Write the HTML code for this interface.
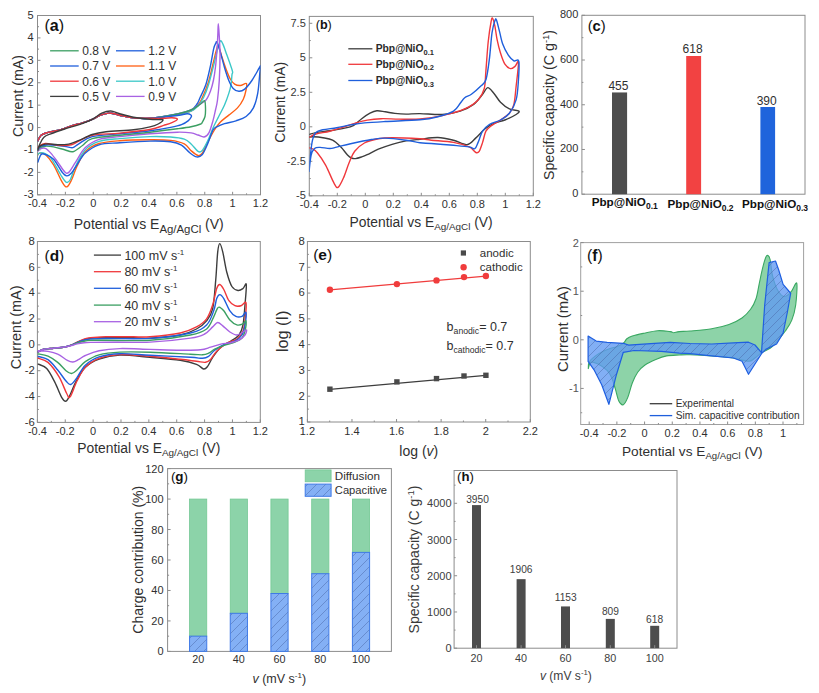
<!DOCTYPE html>
<html><head><meta charset="utf-8"><style>
html,body{margin:0;padding:0;background:#fff;}
svg{display:block;font-family:"Liberation Sans", sans-serif;}
</style></head><body>
<svg width="819" height="693" viewBox="0 0 819 693">
<rect width="819" height="693" fill="#fff"/>
<rect x="37.50" y="15.50" width="223.00" height="179.30" fill="none" stroke="#8c8c8c" stroke-width="1"/>
<line x1="37.50" y1="194.8" x2="37.50" y2="191.8" stroke="#8c8c8c" stroke-width="1"/>
<text x="37.50" y="207.30" font-size="11" text-anchor="middle" fill="#303030" font-weight="normal" >-0.4</text>
<line x1="65.38" y1="194.8" x2="65.38" y2="191.8" stroke="#8c8c8c" stroke-width="1"/>
<text x="65.38" y="207.30" font-size="11" text-anchor="middle" fill="#303030" font-weight="normal" >-0.2</text>
<line x1="93.25" y1="194.8" x2="93.25" y2="191.8" stroke="#8c8c8c" stroke-width="1"/>
<text x="93.25" y="207.30" font-size="11" text-anchor="middle" fill="#303030" font-weight="normal" >0</text>
<line x1="121.13" y1="194.8" x2="121.13" y2="191.8" stroke="#8c8c8c" stroke-width="1"/>
<text x="121.13" y="207.30" font-size="11" text-anchor="middle" fill="#303030" font-weight="normal" >0.2</text>
<line x1="149.00" y1="194.8" x2="149.00" y2="191.8" stroke="#8c8c8c" stroke-width="1"/>
<text x="149.00" y="207.30" font-size="11" text-anchor="middle" fill="#303030" font-weight="normal" >0.4</text>
<line x1="176.88" y1="194.8" x2="176.88" y2="191.8" stroke="#8c8c8c" stroke-width="1"/>
<text x="176.88" y="207.30" font-size="11" text-anchor="middle" fill="#303030" font-weight="normal" >0.6</text>
<line x1="204.75" y1="194.8" x2="204.75" y2="191.8" stroke="#8c8c8c" stroke-width="1"/>
<text x="204.75" y="207.30" font-size="11" text-anchor="middle" fill="#303030" font-weight="normal" >0.8</text>
<line x1="232.62" y1="194.8" x2="232.62" y2="191.8" stroke="#8c8c8c" stroke-width="1"/>
<text x="232.62" y="207.30" font-size="11" text-anchor="middle" fill="#303030" font-weight="normal" >1</text>
<line x1="260.50" y1="194.8" x2="260.50" y2="191.8" stroke="#8c8c8c" stroke-width="1"/>
<text x="260.50" y="207.30" font-size="11" text-anchor="middle" fill="#303030" font-weight="normal" >1.2</text>
<line x1="51.44" y1="194.8" x2="51.44" y2="193.3" stroke="#8c8c8c" stroke-width="1"/>
<line x1="79.31" y1="194.8" x2="79.31" y2="193.3" stroke="#8c8c8c" stroke-width="1"/>
<line x1="107.19" y1="194.8" x2="107.19" y2="193.3" stroke="#8c8c8c" stroke-width="1"/>
<line x1="135.06" y1="194.8" x2="135.06" y2="193.3" stroke="#8c8c8c" stroke-width="1"/>
<line x1="162.94" y1="194.8" x2="162.94" y2="193.3" stroke="#8c8c8c" stroke-width="1"/>
<line x1="190.81" y1="194.8" x2="190.81" y2="193.3" stroke="#8c8c8c" stroke-width="1"/>
<line x1="218.69" y1="194.8" x2="218.69" y2="193.3" stroke="#8c8c8c" stroke-width="1"/>
<line x1="246.56" y1="194.8" x2="246.56" y2="193.3" stroke="#8c8c8c" stroke-width="1"/>
<line x1="37.5" y1="194.80" x2="40.5" y2="194.80" stroke="#8c8c8c" stroke-width="1"/>
<text x="33.50" y="198.00" font-size="11" text-anchor="end" fill="#303030" font-weight="normal" >-3</text>
<line x1="37.5" y1="172.39" x2="40.5" y2="172.39" stroke="#8c8c8c" stroke-width="1"/>
<text x="33.50" y="175.59" font-size="11" text-anchor="end" fill="#303030" font-weight="normal" >-2</text>
<line x1="37.5" y1="149.98" x2="40.5" y2="149.98" stroke="#8c8c8c" stroke-width="1"/>
<text x="33.50" y="153.18" font-size="11" text-anchor="end" fill="#303030" font-weight="normal" >-1</text>
<line x1="37.5" y1="127.56" x2="40.5" y2="127.56" stroke="#8c8c8c" stroke-width="1"/>
<text x="33.50" y="130.76" font-size="11" text-anchor="end" fill="#303030" font-weight="normal" >0</text>
<line x1="37.5" y1="105.15" x2="40.5" y2="105.15" stroke="#8c8c8c" stroke-width="1"/>
<text x="33.50" y="108.35" font-size="11" text-anchor="end" fill="#303030" font-weight="normal" >1</text>
<line x1="37.5" y1="82.74" x2="40.5" y2="82.74" stroke="#8c8c8c" stroke-width="1"/>
<text x="33.50" y="85.94" font-size="11" text-anchor="end" fill="#303030" font-weight="normal" >2</text>
<line x1="37.5" y1="60.32" x2="40.5" y2="60.32" stroke="#8c8c8c" stroke-width="1"/>
<text x="33.50" y="63.52" font-size="11" text-anchor="end" fill="#303030" font-weight="normal" >3</text>
<line x1="37.5" y1="37.91" x2="40.5" y2="37.91" stroke="#8c8c8c" stroke-width="1"/>
<text x="33.50" y="41.11" font-size="11" text-anchor="end" fill="#303030" font-weight="normal" >4</text>
<line x1="37.5" y1="15.50" x2="40.5" y2="15.50" stroke="#8c8c8c" stroke-width="1"/>
<text x="33.50" y="18.70" font-size="11" text-anchor="end" fill="#303030" font-weight="normal" >5</text>
<line x1="37.5" y1="183.59" x2="39.0" y2="183.59" stroke="#8c8c8c" stroke-width="1"/>
<line x1="37.5" y1="161.18" x2="39.0" y2="161.18" stroke="#8c8c8c" stroke-width="1"/>
<line x1="37.5" y1="138.77" x2="39.0" y2="138.77" stroke="#8c8c8c" stroke-width="1"/>
<line x1="37.5" y1="116.36" x2="39.0" y2="116.36" stroke="#8c8c8c" stroke-width="1"/>
<line x1="37.5" y1="93.94" x2="39.0" y2="93.94" stroke="#8c8c8c" stroke-width="1"/>
<line x1="37.5" y1="71.53" x2="39.0" y2="71.53" stroke="#8c8c8c" stroke-width="1"/>
<line x1="37.5" y1="49.12" x2="39.0" y2="49.12" stroke="#8c8c8c" stroke-width="1"/>
<line x1="37.5" y1="26.71" x2="39.0" y2="26.71" stroke="#8c8c8c" stroke-width="1"/>
<text x="44.40" y="31.40" font-size="16.1" fill="#111">(<tspan font-weight="bold">a</tspan>)</text>
<text x="22.90" y="96.00" font-size="14.2" text-anchor="middle" fill="#303030" transform="rotate(-90 22.90 96.00)">Current (mA)</text>
<text x="148.75" y="228.80" font-size="14" text-anchor="middle" fill="#303030" font-weight="normal" >Potential vs E<tspan font-size="11.4" dy="4.3">Ag/AgCl</tspan><tspan dy="-4.3"> (V)</tspan></text>
<line x1="50.1" y1="50.8" x2="78.7" y2="50.8" stroke="#3b9f62" stroke-width="1.3"/>
<text x="82.30" y="55.10" font-size="12" text-anchor="start" fill="#303030" font-weight="normal" >0.8 V</text>
<line x1="50.1" y1="66" x2="78.7" y2="66" stroke="#1f5fdc" stroke-width="1.3"/>
<text x="82.30" y="70.30" font-size="12" text-anchor="start" fill="#303030" font-weight="normal" >0.7 V</text>
<line x1="50.1" y1="81.2" x2="78.7" y2="81.2" stroke="#f0383c" stroke-width="1.3"/>
<text x="82.30" y="85.50" font-size="12" text-anchor="start" fill="#303030" font-weight="normal" >0.6 V</text>
<line x1="50.1" y1="96.4" x2="78.7" y2="96.4" stroke="#3d3d3d" stroke-width="1.3"/>
<text x="82.30" y="100.70" font-size="12" text-anchor="start" fill="#303030" font-weight="normal" >0.5 V</text>
<line x1="116" y1="50.8" x2="144.6" y2="50.8" stroke="#1f5fdc" stroke-width="1.3"/>
<text x="148.20" y="55.10" font-size="12" text-anchor="start" fill="#303030" font-weight="normal" >1.2 V</text>
<line x1="116" y1="66" x2="144.6" y2="66" stroke="#ff5f14" stroke-width="1.3"/>
<text x="148.20" y="70.30" font-size="12" text-anchor="start" fill="#303030" font-weight="normal" >1.1 V</text>
<line x1="116" y1="81.2" x2="144.6" y2="81.2" stroke="#3cc8c8" stroke-width="1.3"/>
<text x="148.20" y="85.50" font-size="12" text-anchor="start" fill="#303030" font-weight="normal" >1.0 V</text>
<line x1="116" y1="96.4" x2="144.6" y2="96.4" stroke="#a862e3" stroke-width="1.3"/>
<text x="148.20" y="100.70" font-size="12" text-anchor="start" fill="#303030" font-weight="normal" >0.9 V</text>
<rect x="309.30" y="16.40" width="224.00" height="179.40" fill="none" stroke="#8c8c8c" stroke-width="1"/>
<line x1="309.30" y1="195.8" x2="309.30" y2="192.8" stroke="#8c8c8c" stroke-width="1"/>
<text x="309.30" y="207.80" font-size="11" text-anchor="middle" fill="#303030" font-weight="normal" >-0.4</text>
<line x1="337.30" y1="195.8" x2="337.30" y2="192.8" stroke="#8c8c8c" stroke-width="1"/>
<text x="337.30" y="207.80" font-size="11" text-anchor="middle" fill="#303030" font-weight="normal" >-0.2</text>
<line x1="365.30" y1="195.8" x2="365.30" y2="192.8" stroke="#8c8c8c" stroke-width="1"/>
<text x="365.30" y="207.80" font-size="11" text-anchor="middle" fill="#303030" font-weight="normal" >0</text>
<line x1="393.30" y1="195.8" x2="393.30" y2="192.8" stroke="#8c8c8c" stroke-width="1"/>
<text x="393.30" y="207.80" font-size="11" text-anchor="middle" fill="#303030" font-weight="normal" >0.2</text>
<line x1="421.30" y1="195.8" x2="421.30" y2="192.8" stroke="#8c8c8c" stroke-width="1"/>
<text x="421.30" y="207.80" font-size="11" text-anchor="middle" fill="#303030" font-weight="normal" >0.4</text>
<line x1="449.30" y1="195.8" x2="449.30" y2="192.8" stroke="#8c8c8c" stroke-width="1"/>
<text x="449.30" y="207.80" font-size="11" text-anchor="middle" fill="#303030" font-weight="normal" >0.6</text>
<line x1="477.30" y1="195.8" x2="477.30" y2="192.8" stroke="#8c8c8c" stroke-width="1"/>
<text x="477.30" y="207.80" font-size="11" text-anchor="middle" fill="#303030" font-weight="normal" >0.8</text>
<line x1="505.30" y1="195.8" x2="505.30" y2="192.8" stroke="#8c8c8c" stroke-width="1"/>
<text x="505.30" y="207.80" font-size="11" text-anchor="middle" fill="#303030" font-weight="normal" >1</text>
<line x1="533.30" y1="195.8" x2="533.30" y2="192.8" stroke="#8c8c8c" stroke-width="1"/>
<text x="533.30" y="207.80" font-size="11" text-anchor="middle" fill="#303030" font-weight="normal" >1.2</text>
<line x1="323.30" y1="195.8" x2="323.30" y2="194.3" stroke="#8c8c8c" stroke-width="1"/>
<line x1="351.30" y1="195.8" x2="351.30" y2="194.3" stroke="#8c8c8c" stroke-width="1"/>
<line x1="379.30" y1="195.8" x2="379.30" y2="194.3" stroke="#8c8c8c" stroke-width="1"/>
<line x1="407.30" y1="195.8" x2="407.30" y2="194.3" stroke="#8c8c8c" stroke-width="1"/>
<line x1="435.30" y1="195.8" x2="435.30" y2="194.3" stroke="#8c8c8c" stroke-width="1"/>
<line x1="463.30" y1="195.8" x2="463.30" y2="194.3" stroke="#8c8c8c" stroke-width="1"/>
<line x1="491.30" y1="195.8" x2="491.30" y2="194.3" stroke="#8c8c8c" stroke-width="1"/>
<line x1="519.30" y1="195.8" x2="519.30" y2="194.3" stroke="#8c8c8c" stroke-width="1"/>
<line x1="309.3" y1="195.80" x2="312.3" y2="195.80" stroke="#8c8c8c" stroke-width="1"/>
<text x="305.80" y="199.20" font-size="11" text-anchor="end" fill="#383838" font-weight="normal" >-5</text>
<line x1="309.3" y1="161.30" x2="312.3" y2="161.30" stroke="#8c8c8c" stroke-width="1"/>
<text x="305.80" y="164.70" font-size="11" text-anchor="end" fill="#383838" font-weight="normal" >-2.5</text>
<line x1="309.3" y1="126.80" x2="312.3" y2="126.80" stroke="#8c8c8c" stroke-width="1"/>
<text x="305.80" y="130.20" font-size="11" text-anchor="end" fill="#383838" font-weight="normal" >0</text>
<line x1="309.3" y1="92.30" x2="312.3" y2="92.30" stroke="#8c8c8c" stroke-width="1"/>
<text x="305.80" y="95.70" font-size="11" text-anchor="end" fill="#383838" font-weight="normal" >2.5</text>
<line x1="309.3" y1="57.80" x2="312.3" y2="57.80" stroke="#8c8c8c" stroke-width="1"/>
<text x="305.80" y="61.20" font-size="11" text-anchor="end" fill="#383838" font-weight="normal" >5</text>
<line x1="309.3" y1="23.30" x2="312.3" y2="23.30" stroke="#8c8c8c" stroke-width="1"/>
<text x="305.80" y="26.70" font-size="11" text-anchor="end" fill="#383838" font-weight="normal" >7.5</text>
<line x1="309.3" y1="178.55" x2="310.8" y2="178.55" stroke="#8c8c8c" stroke-width="1"/>
<line x1="309.3" y1="144.05" x2="310.8" y2="144.05" stroke="#8c8c8c" stroke-width="1"/>
<line x1="309.3" y1="109.55" x2="310.8" y2="109.55" stroke="#8c8c8c" stroke-width="1"/>
<line x1="309.3" y1="75.05" x2="310.8" y2="75.05" stroke="#8c8c8c" stroke-width="1"/>
<line x1="309.3" y1="40.55" x2="310.8" y2="40.55" stroke="#8c8c8c" stroke-width="1"/>
<text x="315.70" y="29.00" font-size="12.6" fill="#111">(<tspan font-weight="bold">b</tspan>)</text>
<text x="285.40" y="102.30" font-size="14" text-anchor="middle" fill="#303030" transform="rotate(-90 285.40 102.30)">Current (mA)</text>
<text x="421.10" y="227.20" font-size="13.85" text-anchor="middle" fill="#303030" font-weight="normal" >Potential vs E<tspan font-size="9.9" dy="3">Ag/AgCl</tspan><tspan dy="-3"> (V)</tspan></text>
<line x1="348.3" y1="48.8" x2="372.4" y2="48.8" stroke="#3d3d3d" stroke-width="1.3"/>
<text x="375.70" y="52.30" font-size="10.3" text-anchor="start" fill="#2a2a2a" font-weight="bold" >Pbp@NiO<tspan font-size="7.5" dy="2.5">0.1</tspan></text>
<line x1="348.3" y1="64.3" x2="372.4" y2="64.3" stroke="#f0383c" stroke-width="1.3"/>
<text x="375.70" y="67.80" font-size="10.3" text-anchor="start" fill="#2a2a2a" font-weight="bold" >Pbp@NiO<tspan font-size="7.5" dy="2.5">0.2</tspan></text>
<line x1="348.3" y1="80.5" x2="372.4" y2="80.5" stroke="#1f5fdc" stroke-width="1.3"/>
<text x="375.70" y="84.00" font-size="10.3" text-anchor="start" fill="#2a2a2a" font-weight="bold" >Pbp@NiO<tspan font-size="7.5" dy="2.5">0.3</tspan></text>
<rect x="581.90" y="15.30" width="223.10" height="178.90" fill="none" stroke="#8c8c8c" stroke-width="1"/>
<line x1="581.9" y1="194.20" x2="584.9" y2="194.20" stroke="#8c8c8c" stroke-width="1"/>
<text x="578.30" y="197.20" font-size="11" text-anchor="end" fill="#303030" font-weight="normal" >0</text>
<line x1="581.9" y1="149.47" x2="584.9" y2="149.47" stroke="#8c8c8c" stroke-width="1"/>
<text x="578.30" y="152.47" font-size="11" text-anchor="end" fill="#303030" font-weight="normal" >200</text>
<line x1="581.9" y1="104.75" x2="584.9" y2="104.75" stroke="#8c8c8c" stroke-width="1"/>
<text x="578.30" y="107.75" font-size="11" text-anchor="end" fill="#303030" font-weight="normal" >400</text>
<line x1="581.9" y1="60.03" x2="584.9" y2="60.03" stroke="#8c8c8c" stroke-width="1"/>
<text x="578.30" y="63.03" font-size="11" text-anchor="end" fill="#303030" font-weight="normal" >600</text>
<line x1="581.9" y1="15.30" x2="584.9" y2="15.30" stroke="#8c8c8c" stroke-width="1"/>
<text x="578.30" y="18.30" font-size="11" text-anchor="end" fill="#303030" font-weight="normal" >800</text>
<line x1="581.9" y1="171.84" x2="583.4" y2="171.84" stroke="#8c8c8c" stroke-width="1"/>
<line x1="581.9" y1="127.11" x2="583.4" y2="127.11" stroke="#8c8c8c" stroke-width="1"/>
<line x1="581.9" y1="82.39" x2="583.4" y2="82.39" stroke="#8c8c8c" stroke-width="1"/>
<line x1="581.9" y1="37.66" x2="583.4" y2="37.66" stroke="#8c8c8c" stroke-width="1"/>
<text x="587.70" y="30.90" font-size="14.7" fill="#111">(<tspan font-weight="bold">c</tspan>)</text>
<text x="554.20" y="105.00" font-size="14.25" text-anchor="middle" fill="#303030" transform="rotate(-90 554.20 105.00)">Specific capacity (C g<tspan font-size="9.5" dy="-5.5">-1</tspan><tspan dy="5.5">)</tspan></text>
<rect x="612" y="92.45" width="15.10" height="101.75" fill="#4d4d4d"/>
<text x="618.45" y="90.40" font-size="12" text-anchor="middle" fill="#303030" font-weight="normal" >455</text>
<rect x="686.2" y="56.00" width="14.90" height="138.20" fill="#f24242"/>
<text x="692.55" y="52.90" font-size="12" text-anchor="middle" fill="#303030" font-weight="normal" >618</text>
<rect x="760.4" y="106.99" width="14.70" height="87.21" fill="#1f64dc"/>
<text x="766.70" y="104.80" font-size="12" text-anchor="middle" fill="#303030" font-weight="normal" >390</text>
<text x="591.70" y="206.30" font-size="11.7" text-anchor="start" fill="#111" font-weight="bold" >Pbp@NiO<tspan font-size="8.5" dy="2.5">0.1</tspan></text>
<text x="667.50" y="208.00" font-size="11.7" text-anchor="start" fill="#111" font-weight="bold" >Pbp@NiO<tspan font-size="8.5" dy="2.5">0.2</tspan></text>
<text x="742.00" y="208.00" font-size="11.7" text-anchor="start" fill="#111" font-weight="bold" >Pbp@NiO<tspan font-size="8.5" dy="2.5">0.3</tspan></text>
<rect x="37.40" y="241.50" width="222.90" height="180.90" fill="none" stroke="#8c8c8c" stroke-width="1"/>
<line x1="37.40" y1="422.4" x2="37.40" y2="419.4" stroke="#8c8c8c" stroke-width="1"/>
<text x="37.40" y="434.90" font-size="11" text-anchor="middle" fill="#303030" font-weight="normal" >-0.4</text>
<line x1="65.26" y1="422.4" x2="65.26" y2="419.4" stroke="#8c8c8c" stroke-width="1"/>
<text x="65.26" y="434.90" font-size="11" text-anchor="middle" fill="#303030" font-weight="normal" >-0.2</text>
<line x1="93.12" y1="422.4" x2="93.12" y2="419.4" stroke="#8c8c8c" stroke-width="1"/>
<text x="93.12" y="434.90" font-size="11" text-anchor="middle" fill="#303030" font-weight="normal" >0</text>
<line x1="120.99" y1="422.4" x2="120.99" y2="419.4" stroke="#8c8c8c" stroke-width="1"/>
<text x="120.99" y="434.90" font-size="11" text-anchor="middle" fill="#303030" font-weight="normal" >0.2</text>
<line x1="148.85" y1="422.4" x2="148.85" y2="419.4" stroke="#8c8c8c" stroke-width="1"/>
<text x="148.85" y="434.90" font-size="11" text-anchor="middle" fill="#303030" font-weight="normal" >0.4</text>
<line x1="176.71" y1="422.4" x2="176.71" y2="419.4" stroke="#8c8c8c" stroke-width="1"/>
<text x="176.71" y="434.90" font-size="11" text-anchor="middle" fill="#303030" font-weight="normal" >0.6</text>
<line x1="204.58" y1="422.4" x2="204.58" y2="419.4" stroke="#8c8c8c" stroke-width="1"/>
<text x="204.58" y="434.90" font-size="11" text-anchor="middle" fill="#303030" font-weight="normal" >0.8</text>
<line x1="232.44" y1="422.4" x2="232.44" y2="419.4" stroke="#8c8c8c" stroke-width="1"/>
<text x="232.44" y="434.90" font-size="11" text-anchor="middle" fill="#303030" font-weight="normal" >1</text>
<line x1="260.30" y1="422.4" x2="260.30" y2="419.4" stroke="#8c8c8c" stroke-width="1"/>
<text x="260.30" y="434.90" font-size="11" text-anchor="middle" fill="#303030" font-weight="normal" >1.2</text>
<line x1="51.33" y1="422.4" x2="51.33" y2="420.9" stroke="#8c8c8c" stroke-width="1"/>
<line x1="79.19" y1="422.4" x2="79.19" y2="420.9" stroke="#8c8c8c" stroke-width="1"/>
<line x1="107.06" y1="422.4" x2="107.06" y2="420.9" stroke="#8c8c8c" stroke-width="1"/>
<line x1="134.92" y1="422.4" x2="134.92" y2="420.9" stroke="#8c8c8c" stroke-width="1"/>
<line x1="162.78" y1="422.4" x2="162.78" y2="420.9" stroke="#8c8c8c" stroke-width="1"/>
<line x1="190.64" y1="422.4" x2="190.64" y2="420.9" stroke="#8c8c8c" stroke-width="1"/>
<line x1="218.51" y1="422.4" x2="218.51" y2="420.9" stroke="#8c8c8c" stroke-width="1"/>
<line x1="246.37" y1="422.4" x2="246.37" y2="420.9" stroke="#8c8c8c" stroke-width="1"/>
<line x1="37.4" y1="422.40" x2="40.4" y2="422.40" stroke="#8c8c8c" stroke-width="1"/>
<text x="34.70" y="425.70" font-size="11.3" text-anchor="end" fill="#303030" font-weight="normal" >-6</text>
<line x1="37.4" y1="396.56" x2="40.4" y2="396.56" stroke="#8c8c8c" stroke-width="1"/>
<text x="34.70" y="399.86" font-size="11.3" text-anchor="end" fill="#303030" font-weight="normal" >-4</text>
<line x1="37.4" y1="370.71" x2="40.4" y2="370.71" stroke="#8c8c8c" stroke-width="1"/>
<text x="34.70" y="374.01" font-size="11.3" text-anchor="end" fill="#303030" font-weight="normal" >-2</text>
<line x1="37.4" y1="344.87" x2="40.4" y2="344.87" stroke="#8c8c8c" stroke-width="1"/>
<text x="34.70" y="348.17" font-size="11.3" text-anchor="end" fill="#303030" font-weight="normal" >0</text>
<line x1="37.4" y1="319.03" x2="40.4" y2="319.03" stroke="#8c8c8c" stroke-width="1"/>
<text x="34.70" y="322.33" font-size="11.3" text-anchor="end" fill="#303030" font-weight="normal" >2</text>
<line x1="37.4" y1="293.19" x2="40.4" y2="293.19" stroke="#8c8c8c" stroke-width="1"/>
<text x="34.70" y="296.49" font-size="11.3" text-anchor="end" fill="#303030" font-weight="normal" >4</text>
<line x1="37.4" y1="267.34" x2="40.4" y2="267.34" stroke="#8c8c8c" stroke-width="1"/>
<text x="34.70" y="270.64" font-size="11.3" text-anchor="end" fill="#303030" font-weight="normal" >6</text>
<line x1="37.4" y1="241.50" x2="40.4" y2="241.50" stroke="#8c8c8c" stroke-width="1"/>
<text x="34.70" y="244.80" font-size="11.3" text-anchor="end" fill="#303030" font-weight="normal" >8</text>
<line x1="37.4" y1="409.48" x2="38.9" y2="409.48" stroke="#8c8c8c" stroke-width="1"/>
<line x1="37.4" y1="383.64" x2="38.9" y2="383.64" stroke="#8c8c8c" stroke-width="1"/>
<line x1="37.4" y1="357.79" x2="38.9" y2="357.79" stroke="#8c8c8c" stroke-width="1"/>
<line x1="37.4" y1="331.95" x2="38.9" y2="331.95" stroke="#8c8c8c" stroke-width="1"/>
<line x1="37.4" y1="306.11" x2="38.9" y2="306.11" stroke="#8c8c8c" stroke-width="1"/>
<line x1="37.4" y1="280.26" x2="38.9" y2="280.26" stroke="#8c8c8c" stroke-width="1"/>
<line x1="37.4" y1="254.42" x2="38.9" y2="254.42" stroke="#8c8c8c" stroke-width="1"/>
<text x="44.50" y="260.50" font-size="15.4" fill="#111">(<tspan font-weight="bold">d</tspan>)</text>
<text x="21.20" y="327.30" font-size="14.5" text-anchor="middle" fill="#303030" transform="rotate(-90 21.20 327.30)">Current (mA)</text>
<text x="148.85" y="452.60" font-size="13.85" text-anchor="middle" fill="#303030" font-weight="normal" >Potential vs E<tspan font-size="9.9" dy="3.6">Ag/AgCl</tspan><tspan dy="-3.6"> (V)</tspan></text>
<line x1="93.9" y1="255.1" x2="121" y2="255.1" stroke="#3d3d3d" stroke-width="1.3"/>
<text x="124.40" y="259.60" font-size="12.5" text-anchor="start" fill="#303030" font-weight="normal" >100 mV s<tspan font-size="8" dy="-5">-1</tspan></text>
<line x1="93.9" y1="271.7" x2="121" y2="271.7" stroke="#f0383c" stroke-width="1.3"/>
<text x="124.40" y="276.20" font-size="12.5" text-anchor="start" fill="#303030" font-weight="normal" >80 mV s<tspan font-size="8" dy="-5">-1</tspan></text>
<line x1="93.9" y1="288.3" x2="121" y2="288.3" stroke="#1f5fdc" stroke-width="1.3"/>
<text x="124.40" y="292.80" font-size="12.5" text-anchor="start" fill="#303030" font-weight="normal" >60 mV s<tspan font-size="8" dy="-5">-1</tspan></text>
<line x1="93.9" y1="305.1" x2="121" y2="305.1" stroke="#3b9f62" stroke-width="1.3"/>
<text x="124.40" y="309.60" font-size="12.5" text-anchor="start" fill="#303030" font-weight="normal" >40 mV s<tspan font-size="8" dy="-5">-1</tspan></text>
<line x1="93.9" y1="321.7" x2="121" y2="321.7" stroke="#a862e3" stroke-width="1.3"/>
<text x="124.40" y="326.20" font-size="12.5" text-anchor="start" fill="#303030" font-weight="normal" >20 mV s<tspan font-size="8" dy="-5">-1</tspan></text>
<rect x="307.40" y="241.50" width="222.90" height="180.50" fill="none" stroke="#8c8c8c" stroke-width="1"/>
<line x1="307.40" y1="422.0" x2="307.40" y2="419.0" stroke="#8c8c8c" stroke-width="1"/>
<text x="307.40" y="434.50" font-size="11" text-anchor="middle" fill="#303030" font-weight="normal" >1.2</text>
<line x1="351.98" y1="422.0" x2="351.98" y2="419.0" stroke="#8c8c8c" stroke-width="1"/>
<text x="351.98" y="434.50" font-size="11" text-anchor="middle" fill="#303030" font-weight="normal" >1.4</text>
<line x1="396.56" y1="422.0" x2="396.56" y2="419.0" stroke="#8c8c8c" stroke-width="1"/>
<text x="396.56" y="434.50" font-size="11" text-anchor="middle" fill="#303030" font-weight="normal" >1.6</text>
<line x1="441.14" y1="422.0" x2="441.14" y2="419.0" stroke="#8c8c8c" stroke-width="1"/>
<text x="441.14" y="434.50" font-size="11" text-anchor="middle" fill="#303030" font-weight="normal" >1.8</text>
<line x1="485.72" y1="422.0" x2="485.72" y2="419.0" stroke="#8c8c8c" stroke-width="1"/>
<text x="485.72" y="434.50" font-size="11" text-anchor="middle" fill="#303030" font-weight="normal" >2</text>
<line x1="530.30" y1="422.0" x2="530.30" y2="419.0" stroke="#8c8c8c" stroke-width="1"/>
<text x="530.30" y="434.50" font-size="11" text-anchor="middle" fill="#303030" font-weight="normal" >2.2</text>
<line x1="329.69" y1="422.0" x2="329.69" y2="420.5" stroke="#8c8c8c" stroke-width="1"/>
<line x1="374.27" y1="422.0" x2="374.27" y2="420.5" stroke="#8c8c8c" stroke-width="1"/>
<line x1="418.85" y1="422.0" x2="418.85" y2="420.5" stroke="#8c8c8c" stroke-width="1"/>
<line x1="463.43" y1="422.0" x2="463.43" y2="420.5" stroke="#8c8c8c" stroke-width="1"/>
<line x1="508.01" y1="422.0" x2="508.01" y2="420.5" stroke="#8c8c8c" stroke-width="1"/>
<line x1="307.4" y1="422.00" x2="310.4" y2="422.00" stroke="#8c8c8c" stroke-width="1"/>
<text x="304.70" y="425.30" font-size="11.3" text-anchor="end" fill="#303030" font-weight="normal" >1</text>
<line x1="307.4" y1="396.21" x2="310.4" y2="396.21" stroke="#8c8c8c" stroke-width="1"/>
<text x="304.70" y="399.51" font-size="11.3" text-anchor="end" fill="#303030" font-weight="normal" >2</text>
<line x1="307.4" y1="370.43" x2="310.4" y2="370.43" stroke="#8c8c8c" stroke-width="1"/>
<text x="304.70" y="373.73" font-size="11.3" text-anchor="end" fill="#303030" font-weight="normal" >3</text>
<line x1="307.4" y1="344.64" x2="310.4" y2="344.64" stroke="#8c8c8c" stroke-width="1"/>
<text x="304.70" y="347.94" font-size="11.3" text-anchor="end" fill="#303030" font-weight="normal" >4</text>
<line x1="307.4" y1="318.86" x2="310.4" y2="318.86" stroke="#8c8c8c" stroke-width="1"/>
<text x="304.70" y="322.16" font-size="11.3" text-anchor="end" fill="#303030" font-weight="normal" >5</text>
<line x1="307.4" y1="293.07" x2="310.4" y2="293.07" stroke="#8c8c8c" stroke-width="1"/>
<text x="304.70" y="296.37" font-size="11.3" text-anchor="end" fill="#303030" font-weight="normal" >6</text>
<line x1="307.4" y1="267.29" x2="310.4" y2="267.29" stroke="#8c8c8c" stroke-width="1"/>
<text x="304.70" y="270.59" font-size="11.3" text-anchor="end" fill="#303030" font-weight="normal" >7</text>
<line x1="307.4" y1="241.50" x2="310.4" y2="241.50" stroke="#8c8c8c" stroke-width="1"/>
<text x="304.70" y="244.80" font-size="11.3" text-anchor="end" fill="#303030" font-weight="normal" >8</text>
<line x1="307.4" y1="409.11" x2="308.9" y2="409.11" stroke="#8c8c8c" stroke-width="1"/>
<line x1="307.4" y1="383.32" x2="308.9" y2="383.32" stroke="#8c8c8c" stroke-width="1"/>
<line x1="307.4" y1="357.54" x2="308.9" y2="357.54" stroke="#8c8c8c" stroke-width="1"/>
<line x1="307.4" y1="331.75" x2="308.9" y2="331.75" stroke="#8c8c8c" stroke-width="1"/>
<line x1="307.4" y1="305.96" x2="308.9" y2="305.96" stroke="#8c8c8c" stroke-width="1"/>
<line x1="307.4" y1="280.18" x2="308.9" y2="280.18" stroke="#8c8c8c" stroke-width="1"/>
<line x1="307.4" y1="254.39" x2="308.9" y2="254.39" stroke="#8c8c8c" stroke-width="1"/>
<text x="313.20" y="260.40" font-size="15.5" fill="#111">(<tspan font-weight="bold">e</tspan>)</text>
<text x="288.40" y="331.40" font-size="16.2" text-anchor="middle" fill="#303030" transform="rotate(-90 288.40 331.40)">log (I)</text>
<text x="418.80" y="455.50" font-size="14" text-anchor="middle" fill="#303030" font-weight="normal" >log (<tspan font-style="italic">v</tspan>)</text>
<rect x="580.70" y="242.60" width="222.90" height="181.90" fill="none" stroke="#a0a0a0" stroke-width="1"/>
<line x1="589.20" y1="424.5" x2="589.20" y2="421.5" stroke="#8c8c8c" stroke-width="1"/>
<text x="589.20" y="437.10" font-size="11" text-anchor="middle" fill="#303030" font-weight="normal" >-0.4</text>
<line x1="616.89" y1="424.5" x2="616.89" y2="421.5" stroke="#8c8c8c" stroke-width="1"/>
<text x="616.89" y="437.10" font-size="11" text-anchor="middle" fill="#303030" font-weight="normal" >-0.2</text>
<line x1="644.58" y1="424.5" x2="644.58" y2="421.5" stroke="#8c8c8c" stroke-width="1"/>
<text x="644.58" y="437.10" font-size="11" text-anchor="middle" fill="#303030" font-weight="normal" >0</text>
<line x1="672.26" y1="424.5" x2="672.26" y2="421.5" stroke="#8c8c8c" stroke-width="1"/>
<text x="672.26" y="437.10" font-size="11" text-anchor="middle" fill="#303030" font-weight="normal" >0.2</text>
<line x1="699.95" y1="424.5" x2="699.95" y2="421.5" stroke="#8c8c8c" stroke-width="1"/>
<text x="699.95" y="437.10" font-size="11" text-anchor="middle" fill="#303030" font-weight="normal" >0.4</text>
<line x1="727.64" y1="424.5" x2="727.64" y2="421.5" stroke="#8c8c8c" stroke-width="1"/>
<text x="727.64" y="437.10" font-size="11" text-anchor="middle" fill="#303030" font-weight="normal" >0.6</text>
<line x1="755.33" y1="424.5" x2="755.33" y2="421.5" stroke="#8c8c8c" stroke-width="1"/>
<text x="755.33" y="437.10" font-size="11" text-anchor="middle" fill="#303030" font-weight="normal" >0.8</text>
<line x1="783.01" y1="424.5" x2="783.01" y2="421.5" stroke="#8c8c8c" stroke-width="1"/>
<text x="783.01" y="437.10" font-size="11" text-anchor="middle" fill="#303030" font-weight="normal" >1</text>
<line x1="603.04" y1="424.5" x2="603.04" y2="423.0" stroke="#8c8c8c" stroke-width="1"/>
<line x1="630.73" y1="424.5" x2="630.73" y2="423.0" stroke="#8c8c8c" stroke-width="1"/>
<line x1="658.42" y1="424.5" x2="658.42" y2="423.0" stroke="#8c8c8c" stroke-width="1"/>
<line x1="686.11" y1="424.5" x2="686.11" y2="423.0" stroke="#8c8c8c" stroke-width="1"/>
<line x1="713.79" y1="424.5" x2="713.79" y2="423.0" stroke="#8c8c8c" stroke-width="1"/>
<line x1="741.48" y1="424.5" x2="741.48" y2="423.0" stroke="#8c8c8c" stroke-width="1"/>
<line x1="769.17" y1="424.5" x2="769.17" y2="423.0" stroke="#8c8c8c" stroke-width="1"/>
<line x1="796.86" y1="424.5" x2="796.86" y2="423.0" stroke="#8c8c8c" stroke-width="1"/>
<line x1="580.7" y1="388.43" x2="583.7" y2="388.43" stroke="#8c8c8c" stroke-width="1"/>
<text x="578.90" y="392.43" font-size="11" text-anchor="end" fill="#555" font-weight="normal" >-1</text>
<line x1="580.7" y1="339.82" x2="583.7" y2="339.82" stroke="#8c8c8c" stroke-width="1"/>
<text x="578.90" y="343.82" font-size="11" text-anchor="end" fill="#555" font-weight="normal" >0</text>
<line x1="580.7" y1="291.21" x2="583.7" y2="291.21" stroke="#8c8c8c" stroke-width="1"/>
<text x="578.90" y="295.21" font-size="11" text-anchor="end" fill="#555" font-weight="normal" >1</text>
<line x1="580.7" y1="242.60" x2="583.7" y2="242.60" stroke="#8c8c8c" stroke-width="1"/>
<text x="578.90" y="246.60" font-size="11" text-anchor="end" fill="#555" font-weight="normal" >2</text>
<line x1="580.7" y1="412.74" x2="582.2" y2="412.74" stroke="#8c8c8c" stroke-width="1"/>
<line x1="580.7" y1="364.13" x2="582.2" y2="364.13" stroke="#8c8c8c" stroke-width="1"/>
<line x1="580.7" y1="315.52" x2="582.2" y2="315.52" stroke="#8c8c8c" stroke-width="1"/>
<line x1="580.7" y1="266.91" x2="582.2" y2="266.91" stroke="#8c8c8c" stroke-width="1"/>
<text x="587.00" y="261.00" font-size="15.6" fill="#111">(<tspan font-weight="bold">f</tspan>)</text>
<text x="568.30" y="329.00" font-size="14.9" text-anchor="middle" fill="#303030" transform="rotate(-90 568.30 329.00)">Current (mA)</text>
<text x="692.30" y="455.90" font-size="13.65" text-anchor="middle" fill="#303030" font-weight="normal" >Potential vs E<tspan font-size="9.6" dy="3">Ag/AgCl</tspan><tspan dy="-3"> (V)</tspan></text>
<rect x="167.60" y="468.60" width="223.80" height="182.80" fill="none" stroke="#8c8c8c" stroke-width="1"/>
<line x1="167.6" y1="651.40" x2="170.6" y2="651.40" stroke="#8c8c8c" stroke-width="1"/>
<text x="163.60" y="655.40" font-size="11" text-anchor="end" fill="#303030" font-weight="normal" >0</text>
<line x1="167.6" y1="620.93" x2="170.6" y2="620.93" stroke="#8c8c8c" stroke-width="1"/>
<text x="163.60" y="624.93" font-size="11" text-anchor="end" fill="#303030" font-weight="normal" >20</text>
<line x1="167.6" y1="590.47" x2="170.6" y2="590.47" stroke="#8c8c8c" stroke-width="1"/>
<text x="163.60" y="594.47" font-size="11" text-anchor="end" fill="#303030" font-weight="normal" >40</text>
<line x1="167.6" y1="560.00" x2="170.6" y2="560.00" stroke="#8c8c8c" stroke-width="1"/>
<text x="163.60" y="564.00" font-size="11" text-anchor="end" fill="#303030" font-weight="normal" >60</text>
<line x1="167.6" y1="529.53" x2="170.6" y2="529.53" stroke="#8c8c8c" stroke-width="1"/>
<text x="163.60" y="533.53" font-size="11" text-anchor="end" fill="#303030" font-weight="normal" >80</text>
<line x1="167.6" y1="499.07" x2="170.6" y2="499.07" stroke="#8c8c8c" stroke-width="1"/>
<text x="163.60" y="503.07" font-size="11" text-anchor="end" fill="#303030" font-weight="normal" >100</text>
<line x1="167.6" y1="468.60" x2="170.6" y2="468.60" stroke="#8c8c8c" stroke-width="1"/>
<text x="163.60" y="472.60" font-size="11" text-anchor="end" fill="#303030" font-weight="normal" >120</text>
<line x1="167.6" y1="636.17" x2="169.1" y2="636.17" stroke="#8c8c8c" stroke-width="1"/>
<line x1="167.6" y1="605.70" x2="169.1" y2="605.70" stroke="#8c8c8c" stroke-width="1"/>
<line x1="167.6" y1="575.23" x2="169.1" y2="575.23" stroke="#8c8c8c" stroke-width="1"/>
<line x1="167.6" y1="544.77" x2="169.1" y2="544.77" stroke="#8c8c8c" stroke-width="1"/>
<line x1="167.6" y1="514.30" x2="169.1" y2="514.30" stroke="#8c8c8c" stroke-width="1"/>
<line x1="167.6" y1="483.83" x2="169.1" y2="483.83" stroke="#8c8c8c" stroke-width="1"/>
<text x="170.90" y="481.00" font-size="13.4" fill="#111">(<tspan font-weight="bold">g</tspan>)</text>
<text x="142.60" y="559.70" font-size="14" text-anchor="middle" fill="#303030" transform="rotate(-90 142.60 559.70)">Charge contribution (%)</text>
<text x="279.30" y="683.00" font-size="12.5" text-anchor="middle" fill="#303030" font-weight="normal" ><tspan font-style="italic">v</tspan> (mV s<tspan font-size="8" dy="-5">-1</tspan><tspan dy="5">)</tspan></text>
<rect x="454.10" y="470.50" width="222.90" height="177.70" fill="none" stroke="#8c8c8c" stroke-width="1"/>
<line x1="454.1" y1="648.20" x2="457.1" y2="648.20" stroke="#8c8c8c" stroke-width="1"/>
<text x="451.60" y="652.20" font-size="11" text-anchor="end" fill="#404040" font-weight="normal" >0</text>
<line x1="454.1" y1="611.97" x2="457.1" y2="611.97" stroke="#8c8c8c" stroke-width="1"/>
<text x="451.60" y="615.97" font-size="11" text-anchor="end" fill="#404040" font-weight="normal" >1000</text>
<line x1="454.1" y1="575.74" x2="457.1" y2="575.74" stroke="#8c8c8c" stroke-width="1"/>
<text x="451.60" y="579.74" font-size="11" text-anchor="end" fill="#404040" font-weight="normal" >2000</text>
<line x1="454.1" y1="539.52" x2="457.1" y2="539.52" stroke="#8c8c8c" stroke-width="1"/>
<text x="451.60" y="543.52" font-size="11" text-anchor="end" fill="#404040" font-weight="normal" >3000</text>
<line x1="454.1" y1="503.29" x2="457.1" y2="503.29" stroke="#8c8c8c" stroke-width="1"/>
<text x="451.60" y="507.29" font-size="11" text-anchor="end" fill="#404040" font-weight="normal" >4000</text>
<line x1="454.1" y1="630.09" x2="455.6" y2="630.09" stroke="#8c8c8c" stroke-width="1"/>
<line x1="454.1" y1="593.86" x2="455.6" y2="593.86" stroke="#8c8c8c" stroke-width="1"/>
<line x1="454.1" y1="557.63" x2="455.6" y2="557.63" stroke="#8c8c8c" stroke-width="1"/>
<line x1="454.1" y1="521.40" x2="455.6" y2="521.40" stroke="#8c8c8c" stroke-width="1"/>
<line x1="454.1" y1="485.17" x2="455.6" y2="485.17" stroke="#8c8c8c" stroke-width="1"/>
<text x="457.00" y="481.40" font-size="13.2" fill="#111">(<tspan font-weight="bold">h</tspan>)</text>
<text x="419.00" y="559.50" font-size="14" text-anchor="middle" fill="#3a3a3a" transform="rotate(-90 419.00 559.50)">Specific capacity (C g<tspan font-size="9.5" dy="-5.5">-1</tspan><tspan dy="5.5">)</tspan></text>
<text x="565.90" y="680.20" font-size="12.1" text-anchor="middle" fill="#404040" font-weight="normal" ><tspan font-style="italic">v</tspan> (mV s<tspan font-size="7.8" dy="-5">-1</tspan><tspan dy="5">)</tspan></text>
<clipPath id="clipA"><rect x="37.5" y="15.5" width="223" height="179.3"/></clipPath>
<path d="M37.50,141.40 C38.10,140.37 39.35,136.70 41.10,135.20 C42.85,133.70 45.23,133.20 48.00,132.40 C50.77,131.60 54.93,131.08 57.70,130.40 C60.47,129.72 62.07,129.12 64.60,128.30 C67.13,127.48 69.92,126.42 72.90,125.50 C75.88,124.58 79.28,123.83 82.50,122.80 C85.72,121.77 89.20,120.57 92.20,119.30 C95.20,118.03 97.75,116.23 100.50,115.20 C103.25,114.17 106.40,113.33 108.70,113.10 C111.00,112.87 112.00,113.33 114.30,113.80 C116.60,114.27 119.28,115.22 122.50,115.90 C125.72,116.58 129.02,117.50 133.60,117.90 C138.18,118.30 142.70,118.88 150.00,118.30 C157.30,117.72 170.55,115.62 177.40,114.40 C184.25,113.18 187.75,112.48 191.10,111.00 C194.45,109.52 195.77,107.42 197.50,105.50 C199.23,103.58 199.67,103.43 201.50,99.50 C203.33,95.57 206.38,88.68 208.50,81.90 C210.62,75.12 212.82,64.33 214.20,58.80 C215.58,53.27 216.08,50.95 216.80,48.70 C217.52,46.45 217.70,44.08 218.50,45.30 C219.30,46.52 220.35,52.07 221.60,56.00 C222.85,59.93 224.55,65.07 226.00,68.90 C227.45,72.73 228.87,76.47 230.30,79.00 C231.73,81.53 232.92,83.02 234.60,84.10 C236.28,85.18 238.43,85.58 240.40,85.50 C242.37,85.42 245.48,82.75 246.40,83.60 C247.32,84.45 246.42,88.00 245.90,90.60 C245.38,93.20 244.70,96.32 243.30,99.20 C241.90,102.08 239.92,105.25 237.50,107.90 C235.08,110.55 231.68,112.70 228.80,115.10 C225.92,117.50 222.60,119.82 220.20,122.30 C217.80,124.78 216.50,126.63 214.40,130.00 C212.30,133.37 209.65,138.58 207.60,142.50 C205.55,146.42 203.70,151.33 202.10,153.50 C200.50,155.67 199.83,155.97 198.00,155.50 C196.17,155.03 193.38,152.63 191.10,150.70 C188.82,148.77 187.72,145.62 184.30,143.90 C180.88,142.18 176.32,141.08 170.60,140.40 C164.88,139.72 158.47,139.75 150.00,139.80 C141.53,139.85 128.28,140.08 119.80,140.70 C111.32,141.32 104.85,141.67 99.10,143.50 C93.35,145.33 88.98,147.92 85.30,151.70 C81.62,155.48 79.30,161.48 77.00,166.20 C74.70,170.92 73.22,176.55 71.50,180.00 C69.78,183.45 68.32,186.67 66.70,186.90 C65.08,187.13 63.98,185.08 61.80,181.40 C59.62,177.72 56.35,169.28 53.60,164.80 C50.85,160.32 47.60,156.45 45.30,154.50 C43.00,152.55 41.10,152.98 39.80,153.10 C38.50,153.22 37.88,154.85 37.50,155.20" fill="none" stroke="#ff5f14" stroke-width="1.4" stroke-linejoin="round" clip-path="url(#clipA)"/>
<path d="M37.50,141.40 C38.10,140.37 39.35,136.70 41.10,135.20 C42.85,133.70 45.23,133.20 48.00,132.40 C50.77,131.60 54.93,131.08 57.70,130.40 C60.47,129.72 62.07,129.12 64.60,128.30 C67.13,127.48 69.92,126.42 72.90,125.50 C75.88,124.58 79.28,123.83 82.50,122.80 C85.72,121.77 89.20,120.57 92.20,119.30 C95.20,118.03 97.75,116.23 100.50,115.20 C103.25,114.17 106.40,113.33 108.70,113.10 C111.00,112.87 112.00,113.33 114.30,113.80 C116.60,114.27 119.28,115.22 122.50,115.90 C125.72,116.58 129.02,117.50 133.60,117.90 C138.18,118.30 142.70,118.88 150.00,118.30 C157.30,117.72 170.55,115.62 177.40,114.40 C184.25,113.18 187.67,112.40 191.10,111.00 C194.53,109.60 195.88,108.33 198.00,106.00 C200.12,103.67 202.05,100.53 203.80,97.00 C205.55,93.47 206.77,90.43 208.50,84.80 C210.23,79.17 212.62,69.45 214.20,63.20 C215.78,56.95 216.97,51.03 218.00,47.30 C219.03,43.57 219.57,41.28 220.40,40.80 C221.23,40.32 221.95,42.12 223.00,44.40 C224.05,46.68 225.48,51.13 226.70,54.50 C227.92,57.87 229.32,61.72 230.30,64.60 C231.28,67.48 232.32,70.12 232.60,71.80 C232.88,73.48 232.27,72.53 232.00,74.70 C231.73,76.87 231.53,81.68 231.00,84.80 C230.47,87.92 229.88,90.03 228.80,93.40 C227.72,96.77 226.18,101.15 224.50,105.00 C222.82,108.85 220.62,112.67 218.70,116.50 C216.78,120.33 214.85,123.90 213.00,128.00 C211.15,132.10 209.42,137.32 207.60,141.10 C205.78,144.88 203.70,148.98 202.10,150.70 C200.50,152.42 199.83,152.53 198.00,151.40 C196.17,150.27 193.38,145.95 191.10,143.90 C188.82,141.85 187.72,140.25 184.30,139.10 C180.88,137.95 176.32,137.42 170.60,137.00 C164.88,136.58 158.47,136.33 150.00,136.60 C141.53,136.87 128.28,137.80 119.80,138.60 C111.32,139.40 104.85,139.55 99.10,141.40 C93.35,143.25 89.22,145.57 85.30,149.70 C81.38,153.83 78.13,161.15 75.60,166.20 C73.07,171.25 71.70,177.35 70.10,180.00 C68.50,182.65 67.60,183.02 66.00,182.10 C64.40,181.18 63.03,178.53 60.50,174.50 C57.97,170.47 53.57,161.47 50.80,157.90 C48.03,154.33 45.85,153.90 43.90,153.10 C41.95,152.30 40.17,152.75 39.10,153.10 C38.03,153.45 37.77,154.85 37.50,155.20" fill="none" stroke="#3cc8c8" stroke-width="1.4" stroke-linejoin="round" clip-path="url(#clipA)"/>
<path d="M37.50,141.40 C38.10,140.37 39.35,136.70 41.10,135.20 C42.85,133.70 45.23,133.20 48.00,132.40 C50.77,131.60 54.93,131.08 57.70,130.40 C60.47,129.72 62.07,129.12 64.60,128.30 C67.13,127.48 69.92,126.42 72.90,125.50 C75.88,124.58 79.28,123.83 82.50,122.80 C85.72,121.77 89.20,120.57 92.20,119.30 C95.20,118.03 97.75,116.23 100.50,115.20 C103.25,114.17 106.40,113.33 108.70,113.10 C111.00,112.87 112.00,113.33 114.30,113.80 C116.60,114.27 119.28,115.22 122.50,115.90 C125.72,116.58 129.02,117.50 133.60,117.90 C138.18,118.30 142.70,118.95 150.00,118.30 C157.30,117.65 170.55,115.38 177.40,114.00 C184.25,112.62 187.83,111.67 191.10,110.00 C194.37,108.33 195.52,106.03 197.00,104.00 C198.48,101.97 198.53,101.00 200.00,97.80 C201.47,94.60 204.12,89.85 205.80,84.80 C207.48,79.75 208.78,73.52 210.10,67.50 C211.42,61.48 212.73,52.78 213.70,48.70 C214.67,44.62 215.38,44.07 215.90,43.00 C216.42,41.93 216.08,40.87 216.80,42.30 C217.52,43.73 218.92,47.40 220.20,51.60 C221.48,55.80 223.07,62.68 224.50,67.50 C225.93,72.32 227.35,77.02 228.80,80.50 C230.25,83.98 231.52,86.60 233.20,88.40 C234.88,90.20 236.98,91.18 238.90,91.30 C240.82,91.42 242.53,90.90 244.70,89.10 C246.87,87.30 249.50,83.98 251.90,80.50 C254.30,77.02 257.67,70.62 259.10,68.20 C260.53,65.78 260.38,65.15 260.50,66.00 C260.62,66.85 260.27,68.73 259.80,73.30 C259.33,77.87 258.77,87.63 257.70,93.40 C256.63,99.17 255.33,104.05 253.40,107.90 C251.47,111.75 249.00,114.35 246.10,116.50 C243.20,118.65 239.60,119.60 236.00,120.80 C232.40,122.00 227.62,122.73 224.50,123.70 C221.38,124.67 219.22,125.55 217.30,126.60 C215.38,127.65 214.62,127.12 213.00,130.00 C211.38,132.88 209.42,139.77 207.60,143.90 C205.78,148.03 203.93,152.63 202.10,154.80 C200.27,156.97 198.65,157.23 196.60,156.90 C194.55,156.57 192.32,154.75 189.80,152.80 C187.28,150.85 184.70,147.03 181.50,145.20 C178.30,143.37 175.85,142.48 170.60,141.80 C165.35,141.12 158.47,140.93 150.00,141.10 C141.53,141.27 128.28,142.18 119.80,142.80 C111.32,143.42 104.85,143.08 99.10,144.80 C93.35,146.52 88.98,149.77 85.30,153.10 C81.62,156.43 79.30,161.47 77.00,164.80 C74.70,168.13 73.22,171.25 71.50,173.10 C69.78,174.95 68.32,176.13 66.70,175.90 C65.08,175.67 63.98,174.47 61.80,171.70 C59.62,168.93 56.35,162.17 53.60,159.30 C50.85,156.43 47.38,155.30 45.30,154.50 C43.22,153.70 42.40,153.12 41.10,154.50 C39.80,155.88 38.10,161.42 37.50,162.80" fill="none" stroke="#1f5fdc" stroke-width="1.4" stroke-linejoin="round" clip-path="url(#clipA)"/>
<path d="M37.50,141.40 C38.10,140.37 39.35,136.70 41.10,135.20 C42.85,133.70 45.23,133.20 48.00,132.40 C50.77,131.60 54.93,131.08 57.70,130.40 C60.47,129.72 62.07,129.12 64.60,128.30 C67.13,127.48 69.92,126.42 72.90,125.50 C75.88,124.58 79.28,123.83 82.50,122.80 C85.72,121.77 89.20,120.57 92.20,119.30 C95.20,118.03 97.75,116.23 100.50,115.20 C103.25,114.17 106.40,113.33 108.70,113.10 C111.00,112.87 112.00,113.33 114.30,113.80 C116.60,114.27 119.28,115.22 122.50,115.90 C125.72,116.58 129.02,117.50 133.60,117.90 C138.18,118.30 142.70,118.95 150.00,118.30 C157.30,117.65 170.57,115.38 177.40,114.00 C184.23,112.62 187.23,111.67 191.00,110.00 C194.77,108.33 197.50,105.67 200.00,104.00 C202.50,102.33 204.25,102.17 206.00,100.00 C207.75,97.83 209.25,94.33 210.50,91.00 C211.75,87.67 212.65,84.17 213.50,80.00 C214.35,75.83 215.02,71.00 215.60,66.00 C216.18,61.00 216.63,55.17 217.00,50.00 C217.37,44.83 217.58,39.38 217.80,35.00 C218.02,30.62 218.07,23.70 218.30,23.70 C218.53,23.70 218.92,29.78 219.20,35.00 C219.48,40.22 219.98,47.50 220.00,55.00 C220.02,62.50 219.72,72.50 219.30,80.00 C218.88,87.50 218.13,95.00 217.50,100.00 C216.87,105.00 216.25,106.57 215.50,110.00 C214.75,113.43 214.10,116.78 213.00,120.60 C211.90,124.42 210.38,130.17 208.90,132.90 C207.42,135.63 205.92,136.65 204.10,137.00 C202.28,137.35 200.17,135.68 198.00,135.00 C195.83,134.32 194.53,133.37 191.10,132.90 C187.67,132.43 184.25,132.05 177.40,132.20 C170.55,132.35 159.60,133.07 150.00,133.80 C140.40,134.53 128.28,135.68 119.80,136.60 C111.32,137.52 104.85,137.47 99.10,139.30 C93.35,141.13 89.22,143.80 85.30,147.60 C81.38,151.40 78.37,157.97 75.60,162.10 C72.83,166.23 70.53,170.80 68.70,172.40 C66.87,174.00 66.43,173.42 64.60,171.70 C62.77,169.98 60.00,165.20 57.70,162.10 C55.40,159.00 52.87,155.40 50.80,153.10 C48.73,150.80 47.13,148.98 45.30,148.30 C43.47,147.62 41.10,148.43 39.80,149.00 C38.50,149.57 37.88,151.25 37.50,151.70" fill="none" stroke="#a862e3" stroke-width="1.4" stroke-linejoin="round" clip-path="url(#clipA)"/>
<path d="M37.50,141.40 C38.10,140.37 39.35,136.70 41.10,135.20 C42.85,133.70 45.23,133.20 48.00,132.40 C50.77,131.60 54.93,131.08 57.70,130.40 C60.47,129.72 62.07,129.12 64.60,128.30 C67.13,127.48 69.92,126.42 72.90,125.50 C75.88,124.58 79.28,123.83 82.50,122.80 C85.72,121.77 89.20,120.57 92.20,119.30 C95.20,118.03 97.75,116.23 100.50,115.20 C103.25,114.17 106.40,113.33 108.70,113.10 C111.00,112.87 112.00,113.33 114.30,113.80 C116.60,114.27 119.28,115.22 122.50,115.90 C125.72,116.58 129.02,117.50 133.60,117.90 C138.18,118.30 142.70,118.95 150.00,118.30 C157.30,117.65 170.57,115.38 177.40,114.00 C184.23,112.62 187.23,111.58 191.00,110.00 C194.77,108.42 197.75,106.05 200.00,104.50 C202.25,102.95 203.58,100.13 204.50,100.70 C205.42,101.27 205.42,105.27 205.50,107.90 C205.58,110.53 205.55,114.10 205.00,116.50 C204.45,118.90 202.92,121.05 202.20,122.30 C201.48,123.55 202.55,123.27 200.70,124.00 C198.85,124.73 194.98,125.90 191.10,126.70 C187.22,127.50 184.25,127.88 177.40,128.80 C170.55,129.72 159.60,131.13 150.00,132.20 C140.40,133.27 129.43,134.13 119.80,135.20 C110.17,136.27 98.42,136.88 92.20,138.60 C85.98,140.32 85.72,143.32 82.50,145.50 C79.28,147.68 75.88,151.00 72.90,151.70 C69.92,152.40 67.82,150.50 64.60,149.70 C61.38,148.90 56.82,147.48 53.60,146.90 C50.38,146.32 47.60,146.08 45.30,146.20 C43.00,146.32 41.10,146.90 39.80,147.60 C38.50,148.30 37.88,149.93 37.50,150.40" fill="none" stroke="#3b9f62" stroke-width="1.4" stroke-linejoin="round" clip-path="url(#clipA)"/>
<path d="M37.50,141.40 C38.10,140.37 39.35,136.70 41.10,135.20 C42.85,133.70 45.23,133.20 48.00,132.40 C50.77,131.60 54.93,131.08 57.70,130.40 C60.47,129.72 62.07,129.12 64.60,128.30 C67.13,127.48 69.92,126.42 72.90,125.50 C75.88,124.58 79.28,123.83 82.50,122.80 C85.72,121.77 89.20,120.57 92.20,119.30 C95.20,118.03 97.75,116.23 100.50,115.20 C103.25,114.17 106.40,113.33 108.70,113.10 C111.00,112.87 112.00,113.33 114.30,113.80 C116.60,114.27 119.28,115.22 122.50,115.90 C125.72,116.58 129.02,117.50 133.60,117.90 C138.18,118.30 142.70,118.70 150.00,118.30 C157.30,117.90 171.23,116.25 177.40,115.50 C183.57,114.75 184.73,113.88 187.00,113.80 C189.27,113.72 190.30,114.47 191.00,115.00 C191.70,115.53 191.63,116.07 191.20,117.00 C190.77,117.93 190.02,119.32 188.40,120.60 C186.78,121.88 184.47,123.57 181.50,124.70 C178.53,125.83 175.85,126.38 170.60,127.40 C165.35,128.42 158.47,129.73 150.00,130.80 C141.53,131.87 129.43,132.83 119.80,133.80 C110.17,134.77 99.10,134.88 92.20,136.60 C85.30,138.32 81.62,142.27 78.40,144.10 C75.18,145.93 74.73,147.13 72.90,147.60 C71.07,148.07 69.93,147.25 67.40,146.90 C64.87,146.55 60.93,145.85 57.70,145.50 C54.47,145.15 50.77,144.68 48.00,144.80 C45.23,144.92 42.85,145.50 41.10,146.20 C39.35,146.90 38.10,148.53 37.50,149.00" fill="none" stroke="#1f5fdc" stroke-width="1.4" stroke-linejoin="round" clip-path="url(#clipA)"/>
<path d="M37.50,141.40 C38.10,140.37 39.35,136.70 41.10,135.20 C42.85,133.70 45.23,133.20 48.00,132.40 C50.77,131.60 54.93,131.08 57.70,130.40 C60.47,129.72 62.07,129.12 64.60,128.30 C67.13,127.48 69.92,126.42 72.90,125.50 C75.88,124.58 79.28,123.83 82.50,122.80 C85.72,121.77 89.20,120.57 92.20,119.30 C95.20,118.03 97.75,116.23 100.50,115.20 C103.25,114.17 106.40,113.33 108.70,113.10 C111.00,112.87 112.00,113.33 114.30,113.80 C116.60,114.27 119.28,115.22 122.50,115.90 C125.72,116.58 129.02,117.50 133.60,117.90 C138.18,118.30 144.98,118.23 150.00,118.30 C155.02,118.37 160.03,118.38 163.70,118.30 C167.37,118.22 169.72,117.65 172.00,117.80 C174.28,117.95 177.42,118.40 177.40,119.20 C177.38,120.00 174.18,121.57 171.90,122.60 C169.62,123.63 167.35,124.25 163.70,125.40 C160.05,126.55 157.32,128.22 150.00,129.50 C142.68,130.78 129.43,132.15 119.80,133.10 C110.17,134.05 99.10,133.82 92.20,135.20 C85.30,136.58 81.85,139.80 78.40,141.40 C74.95,143.00 74.27,144.12 71.50,144.80 C68.73,145.48 65.25,145.62 61.80,145.50 C58.35,145.38 53.55,144.43 50.80,144.10 C48.05,143.77 47.13,143.27 45.30,143.50 C43.47,143.73 41.10,144.70 39.80,145.50 C38.50,146.30 37.88,147.83 37.50,148.30" fill="none" stroke="#f0383c" stroke-width="1.4" stroke-linejoin="round" clip-path="url(#clipA)"/>
<path d="M37.50,151.00 C37.88,149.85 38.73,146.38 39.80,144.10 C40.87,141.82 42.07,139.02 43.90,137.30 C45.73,135.58 47.35,135.18 50.80,133.80 C54.25,132.42 60.00,130.50 64.60,129.00 C69.20,127.50 73.80,126.42 78.40,124.80 C83.00,123.18 88.30,121.25 92.20,119.30 C96.10,117.35 98.70,114.48 101.80,113.10 C104.90,111.72 107.80,110.88 110.80,111.00 C113.80,111.12 116.00,112.77 119.80,113.80 C123.60,114.83 128.57,116.28 133.60,117.20 C138.63,118.12 145.93,118.90 150.00,119.30 C154.07,119.70 155.83,119.50 158.00,119.60 C160.17,119.70 162.97,119.17 163.00,119.90 C163.03,120.63 160.37,122.83 158.20,124.00 C156.03,125.17 154.10,125.95 150.00,126.90 C145.90,127.85 140.93,128.90 133.60,129.70 C126.27,130.50 112.90,130.90 106.00,131.70 C99.10,132.50 96.80,133.00 92.20,134.50 C87.60,136.00 82.32,139.10 78.40,140.70 C74.48,142.30 72.15,143.42 68.70,144.10 C65.25,144.78 61.15,144.83 57.70,144.80 C54.25,144.77 50.53,143.90 48.00,143.90 C45.47,143.90 44.10,144.18 42.50,144.80 C40.90,145.42 39.23,146.57 38.40,147.60 C37.57,148.63 37.65,150.43 37.50,151.00" fill="none" stroke="#3d3d3d" stroke-width="1.4" stroke-linejoin="round" clip-path="url(#clipA)"/>
<clipPath id="clipB"><rect x="309.3" y="16.4" width="224" height="179.4"/></clipPath>
<path d="M309.00,134.60 C310.15,134.27 312.43,133.23 315.90,132.60 C319.37,131.97 325.18,131.50 329.80,130.80 C334.42,130.10 339.68,129.27 343.60,128.40 C347.52,127.53 350.28,127.22 353.30,125.60 C356.32,123.98 358.92,120.77 361.70,118.70 C364.48,116.63 367.47,114.52 370.00,113.20 C372.53,111.88 374.37,111.03 376.90,110.80 C379.43,110.57 382.20,111.37 385.20,111.80 C388.20,112.23 391.43,113.02 394.90,113.40 C398.37,113.78 401.82,114.07 406.00,114.10 C410.18,114.13 413.93,113.53 420.00,113.60 C426.07,113.67 435.70,114.92 442.40,114.50 C449.10,114.08 455.00,112.78 460.20,111.10 C465.40,109.42 469.87,107.20 473.60,104.40 C477.33,101.60 480.25,97.10 482.60,94.30 C484.95,91.50 485.83,87.78 487.70,87.60 C489.57,87.42 491.67,90.77 493.80,93.20 C495.93,95.63 497.90,99.58 500.50,102.20 C503.10,104.82 506.35,107.42 509.40,108.90 C512.45,110.38 517.68,110.17 518.80,111.10 C519.92,112.03 518.42,113.02 516.10,114.50 C513.78,115.98 508.62,118.52 504.90,120.00 C501.18,121.48 497.15,121.90 493.80,123.40 C490.45,124.90 487.78,126.58 484.80,129.00 C481.82,131.42 478.87,135.30 475.90,137.90 C472.93,140.50 470.73,144.22 467.00,144.60 C463.27,144.98 458.35,141.38 453.50,140.20 C448.65,139.02 443.48,137.67 437.90,137.50 C432.32,137.33 425.32,138.63 420.00,139.20 C414.68,139.77 410.65,140.05 406.00,140.90 C401.35,141.75 396.72,142.92 392.10,144.30 C387.48,145.68 382.45,147.47 378.30,149.20 C374.15,150.93 369.97,153.42 367.20,154.70 C364.43,155.98 363.65,156.25 361.70,156.90 C359.75,157.55 357.20,158.42 355.50,158.60 C353.80,158.78 352.83,158.60 351.50,158.00 C350.17,157.40 349.27,156.82 347.50,155.00 C345.73,153.18 343.38,149.57 340.90,147.10 C338.42,144.63 335.60,141.77 332.60,140.20 C329.60,138.63 326.13,138.28 322.90,137.70 C319.67,137.12 315.52,136.80 313.20,136.70 C310.88,136.60 309.70,137.03 309.00,137.10" fill="none" stroke="#3d3d3d" stroke-width="1.4" stroke-linejoin="round" clip-path="url(#clipB)"/>
<path d="M309.00,137.40 C310.15,136.83 312.43,135.03 315.90,134.00 C319.37,132.97 325.18,132.37 329.80,131.20 C334.42,130.03 339.45,128.32 343.60,127.00 C347.75,125.68 350.77,124.45 354.70,123.30 C358.63,122.15 362.80,120.87 367.20,120.10 C371.60,119.33 375.78,118.87 381.10,118.70 C386.42,118.53 392.62,119.05 399.10,119.10 C405.58,119.15 412.78,119.58 420.00,119.00 C427.22,118.42 434.95,117.28 442.40,115.60 C449.85,113.92 458.75,111.52 464.70,108.90 C470.65,106.28 474.85,103.25 478.10,99.90 C481.35,96.55 482.90,93.63 484.20,88.80 C485.50,83.97 485.23,78.73 485.90,70.90 C486.57,63.07 487.33,50.00 488.20,41.80 C489.07,33.60 490.37,25.60 491.10,21.70 C491.83,17.80 491.97,17.65 492.60,18.40 C493.23,19.15 494.15,22.67 494.90,26.20 C495.65,29.73 496.17,35.13 497.10,39.60 C498.03,44.07 499.20,48.90 500.50,53.00 C501.80,57.10 503.23,61.60 504.90,64.20 C506.57,66.80 508.82,68.23 510.50,68.60 C512.18,68.97 513.67,67.43 515.00,66.40 C516.33,65.37 518.32,59.05 518.50,62.40 C518.68,65.75 516.87,79.50 516.10,86.50 C515.33,93.50 515.02,99.93 513.90,104.40 C512.78,108.87 511.63,110.70 509.40,113.30 C507.17,115.90 503.48,117.95 500.50,120.00 C497.52,122.05 493.93,123.73 491.50,125.60 C489.07,127.47 487.38,128.40 485.90,131.20 C484.42,134.00 483.72,139.05 482.60,142.40 C481.48,145.75 480.32,149.62 479.20,151.30 C478.08,152.98 477.57,153.23 475.90,152.50 C474.23,151.77 472.93,148.58 469.20,146.90 C465.47,145.22 459.83,143.52 453.50,142.40 C447.17,141.28 436.78,140.80 431.20,140.20 C425.62,139.60 426.52,139.22 420.00,138.80 C413.48,138.38 399.05,137.70 392.10,137.70 C385.15,137.70 382.92,137.92 378.30,138.80 C373.68,139.68 368.33,140.92 364.40,143.00 C360.47,145.08 357.23,148.07 354.70,151.30 C352.17,154.53 351.05,158.02 349.20,162.40 C347.35,166.78 345.45,173.45 343.60,177.60 C341.75,181.75 339.70,186.38 338.10,187.30 C336.50,188.22 336.08,186.80 334.00,183.10 C331.92,179.40 328.38,170.17 325.60,165.10 C322.82,160.03 319.60,155.47 317.30,152.70 C315.00,149.93 313.18,149.32 311.80,148.50 C310.42,147.68 309.47,147.92 309.00,147.80" fill="none" stroke="#f0383c" stroke-width="1.4" stroke-linejoin="round" clip-path="url(#clipB)"/>
<path d="M309.00,172.00 C309.23,169.23 309.82,160.70 310.40,155.40 C310.98,150.10 311.58,144.00 312.50,140.20 C313.42,136.40 314.17,134.33 315.90,132.60 C317.63,130.87 319.43,130.62 322.90,129.80 C326.37,128.98 332.08,128.52 336.70,127.70 C341.32,126.88 345.98,125.70 350.60,124.90 C355.22,124.10 358.63,123.47 364.40,122.90 C370.17,122.33 375.93,122.02 385.20,121.50 C394.47,120.98 411.22,120.60 420.00,119.80 C428.78,119.00 432.32,118.15 437.90,116.70 C443.48,115.25 449.78,113.33 453.50,111.10 C457.22,108.87 458.33,105.53 460.20,103.30 C462.07,101.07 462.83,99.20 464.70,97.70 C466.57,96.20 468.80,96.17 471.40,94.30 C474.00,92.43 477.88,88.92 480.30,86.50 C482.72,84.08 484.40,84.27 485.90,79.80 C487.40,75.33 488.28,67.52 489.30,59.70 C490.32,51.88 491.07,39.42 492.00,32.90 C492.93,26.38 494.17,22.77 494.90,20.60 C495.63,18.43 495.67,18.23 496.40,19.90 C497.13,21.57 498.25,26.57 499.30,30.60 C500.35,34.63 501.20,40.00 502.70,44.10 C504.20,48.20 506.43,52.42 508.30,55.20 C510.17,57.98 512.15,59.75 513.90,60.80 C515.65,61.85 518.07,57.95 518.80,61.50 C519.53,65.05 518.75,75.70 518.30,82.10 C517.85,88.50 517.58,94.70 516.10,99.90 C514.62,105.10 512.00,109.95 509.40,113.30 C506.80,116.65 503.85,118.13 500.50,120.00 C497.15,121.87 492.28,122.63 489.30,124.50 C486.32,126.37 484.47,128.22 482.60,131.20 C480.73,134.18 479.40,139.48 478.10,142.40 C476.80,145.32 476.28,147.95 474.80,148.70 C473.32,149.45 472.75,147.47 469.20,146.90 C465.65,146.33 459.83,145.87 453.50,145.30 C447.17,144.73 436.78,143.92 431.20,143.50 C425.62,143.08 424.20,143.35 420.00,142.80 C415.80,142.25 411.80,140.98 406.00,140.20 C400.20,139.42 390.97,138.22 385.20,138.10 C379.43,137.98 377.17,138.57 371.40,139.50 C365.63,140.43 356.38,142.43 350.60,143.70 C344.82,144.97 340.17,146.30 336.70,147.10 C333.23,147.90 332.57,148.45 329.80,148.50 C327.03,148.55 322.65,147.40 320.10,147.40 C317.55,147.40 316.00,147.17 314.50,148.50 C313.00,149.83 312.02,151.48 311.10,155.40 C310.18,159.32 309.35,169.23 309.00,172.00" fill="none" stroke="#1f5fdc" stroke-width="1.4" stroke-linejoin="round" clip-path="url(#clipB)"/>
<clipPath id="clipD"><rect x="37.4" y="241.5" width="222.9" height="180.9"/></clipPath>
<path d="M37.50,352.10 C38.57,351.63 41.22,349.95 43.90,349.30 C46.58,348.65 50.15,348.58 53.60,348.20 C57.05,347.82 61.62,347.53 64.60,347.00 C67.58,346.47 69.40,345.78 71.50,345.00 C73.60,344.22 75.12,343.20 77.20,342.30 C79.28,341.40 81.78,340.28 84.00,339.60 C86.22,338.92 86.83,338.57 90.50,338.20 C94.17,337.83 101.12,337.50 106.00,337.40 C110.88,337.30 115.20,337.53 119.80,337.60 C124.40,337.67 128.57,337.70 133.60,337.80 C138.63,337.90 142.22,338.67 150.00,338.20 C157.78,337.73 172.55,336.53 180.30,335.00 C188.05,333.47 192.12,331.35 196.50,329.00 C200.88,326.65 203.90,324.28 206.60,320.90 C209.30,317.52 211.18,315.45 212.70,308.70 C214.22,301.95 214.87,289.83 215.70,280.40 C216.53,270.97 217.02,258.23 217.70,252.10 C218.38,245.97 218.95,243.60 219.80,243.60 C220.65,243.60 221.63,247.32 222.80,252.10 C223.97,256.88 225.28,266.57 226.80,272.30 C228.32,278.03 230.03,283.47 231.90,286.50 C233.77,289.53 236.15,290.17 238.00,290.50 C239.85,290.83 241.62,289.50 243.00,288.50 C244.38,287.50 245.97,281.80 246.30,284.50 C246.63,287.20 245.55,297.97 245.00,304.70 C244.45,311.43 244.00,319.85 243.00,324.90 C242.00,329.95 241.02,332.30 239.00,335.00 C236.98,337.70 233.93,339.07 230.90,341.10 C227.87,343.13 223.83,344.50 220.80,347.20 C217.77,349.90 214.90,354.10 212.70,357.30 C210.50,360.50 209.12,364.45 207.60,366.40 C206.08,368.35 205.45,369.35 203.60,369.00 C201.75,368.65 200.38,365.75 196.50,364.30 C192.62,362.85 188.05,361.47 180.30,360.30 C172.55,359.13 160.08,358.17 150.00,357.30 C139.92,356.43 128.28,354.82 119.80,355.10 C111.32,355.38 104.85,356.97 99.10,359.00 C93.35,361.03 89.22,363.40 85.30,367.30 C81.38,371.20 78.13,377.82 75.60,382.40 C73.07,386.98 71.70,391.68 70.10,394.80 C68.50,397.92 67.38,400.63 66.00,401.10 C64.62,401.57 63.65,400.72 61.80,397.60 C59.95,394.48 57.42,387.23 54.90,382.40 C52.38,377.57 49.60,371.70 46.70,368.60 C43.80,365.50 39.03,364.60 37.50,363.80" fill="none" stroke="#3d3d3d" stroke-width="1.4" stroke-linejoin="round" clip-path="url(#clipD)"/>
<path d="M37.50,352.10 C38.57,351.63 41.22,349.95 43.90,349.30 C46.58,348.65 50.15,348.58 53.60,348.20 C57.05,347.82 61.62,347.53 64.60,347.00 C67.58,346.47 69.40,345.82 71.50,345.00 C73.60,344.18 75.12,343.07 77.20,342.10 C79.28,341.13 81.78,339.92 84.00,339.20 C86.22,338.48 86.83,338.20 90.50,337.80 C94.17,337.40 101.12,336.97 106.00,336.80 C110.88,336.63 115.20,336.80 119.80,336.80 C124.40,336.80 128.57,336.80 133.60,336.80 C138.63,336.80 142.22,337.43 150.00,336.80 C157.78,336.17 172.55,334.65 180.30,333.00 C188.05,331.35 192.12,329.25 196.50,326.90 C200.88,324.55 203.90,322.60 206.60,318.90 C209.30,315.20 211.02,309.77 212.70,304.70 C214.38,299.63 215.52,291.87 216.70,288.50 C217.88,285.13 218.62,284.33 219.80,284.50 C220.98,284.67 222.28,286.80 223.80,289.50 C225.32,292.20 227.05,298.00 228.90,300.70 C230.75,303.40 232.88,304.87 234.90,305.70 C236.92,306.53 239.15,306.20 241.00,305.70 C242.85,305.20 245.27,300.85 246.00,302.70 C246.73,304.55 245.90,312.08 245.40,316.80 C244.90,321.52 244.42,327.28 243.00,331.00 C241.58,334.72 239.60,337.08 236.90,339.10 C234.20,341.12 230.17,341.08 226.80,343.10 C223.43,345.12 219.38,348.50 216.70,351.20 C214.02,353.90 212.55,357.45 210.70,359.30 C208.85,361.15 207.97,361.97 205.60,362.30 C203.23,362.63 200.72,361.80 196.50,361.30 C192.28,360.80 188.05,360.13 180.30,359.30 C172.55,358.47 160.08,357.08 150.00,356.30 C139.92,355.52 128.28,354.27 119.80,354.60 C111.32,354.93 104.85,356.18 99.10,358.30 C93.35,360.42 88.98,363.52 85.30,367.30 C81.62,371.08 79.53,376.07 77.00,381.00 C74.47,385.93 71.82,394.82 70.10,396.90 C68.38,398.98 68.53,396.83 66.70,393.50 C64.87,390.17 62.22,382.08 59.10,376.90 C55.98,371.72 51.60,365.55 48.00,362.40 C44.40,359.25 39.25,358.73 37.50,358.00" fill="none" stroke="#f0383c" stroke-width="1.4" stroke-linejoin="round" clip-path="url(#clipD)"/>
<path d="M37.50,352.10 C38.57,351.63 41.22,349.95 43.90,349.30 C46.58,348.65 50.15,348.58 53.60,348.20 C57.05,347.82 61.62,347.52 64.60,347.00 C67.58,346.48 69.40,345.83 71.50,345.10 C73.60,344.37 75.12,343.42 77.20,342.60 C79.28,341.78 81.78,340.78 84.00,340.20 C86.22,339.62 86.83,339.38 90.50,339.10 C94.17,338.82 96.08,338.62 106.00,338.50 C115.92,338.38 135.93,339.32 150.00,338.40 C164.07,337.48 180.97,335.25 190.40,333.00 C199.83,330.75 202.72,328.60 206.60,324.90 C210.48,321.20 212.02,315.18 213.70,310.80 C215.38,306.42 215.68,301.30 216.70,298.60 C217.72,295.90 218.62,294.60 219.80,294.60 C220.98,294.60 222.12,295.90 223.80,298.60 C225.48,301.30 227.88,307.83 229.90,310.80 C231.92,313.77 233.88,315.47 235.90,316.40 C237.92,317.33 240.32,317.07 242.00,316.40 C243.68,315.73 245.50,310.98 246.00,312.40 C246.50,313.82 245.67,321.13 245.00,324.90 C244.33,328.67 243.68,332.30 242.00,335.00 C240.32,337.70 237.77,339.58 234.90,341.10 C232.03,342.62 228.17,342.58 224.80,344.10 C221.43,345.62 217.40,348.17 214.70,350.20 C212.00,352.23 210.62,354.95 208.60,356.30 C206.58,357.65 205.63,358.13 202.60,358.30 C199.57,358.47 199.17,357.82 190.40,357.30 C181.63,356.78 161.77,355.80 150.00,355.20 C138.23,354.60 128.28,353.42 119.80,353.70 C111.32,353.98 104.85,354.98 99.10,356.90 C93.35,358.82 88.98,361.75 85.30,365.20 C81.62,368.65 79.42,374.38 77.00,377.60 C74.58,380.82 72.63,383.93 70.80,384.50 C68.97,385.07 68.18,383.42 66.00,381.00 C63.82,378.58 60.70,373.55 57.70,370.00 C54.70,366.45 51.37,362.00 48.00,359.70 C44.63,357.40 39.25,356.78 37.50,356.20" fill="none" stroke="#1f5fdc" stroke-width="1.4" stroke-linejoin="round" clip-path="url(#clipD)"/>
<path d="M37.50,352.10 C38.57,351.63 41.22,349.95 43.90,349.30 C46.58,348.65 50.15,348.58 53.60,348.20 C57.05,347.82 61.62,347.50 64.60,347.00 C67.58,346.50 69.40,345.87 71.50,345.20 C73.60,344.53 75.12,343.67 77.20,343.00 C79.28,342.33 81.78,341.63 84.00,341.20 C86.22,340.77 86.83,340.55 90.50,340.40 C94.17,340.25 96.08,340.32 106.00,340.30 C115.92,340.28 135.93,341.18 150.00,340.30 C164.07,339.42 180.97,336.88 190.40,335.00 C199.83,333.12 202.72,332.03 206.60,329.00 C210.48,325.97 212.02,320.00 213.70,316.80 C215.38,313.60 215.80,311.42 216.70,309.80 C217.60,308.18 217.92,306.93 219.10,307.10 C220.28,307.27 222.00,308.67 223.80,310.80 C225.60,312.93 227.72,317.55 229.90,319.90 C232.08,322.25 234.72,324.23 236.90,324.90 C239.08,325.57 241.48,324.57 243.00,323.90 C244.52,323.23 245.67,319.72 246.00,320.90 C246.33,322.08 245.67,328.13 245.00,331.00 C244.33,333.87 243.68,336.25 242.00,338.10 C240.32,339.95 237.77,340.93 234.90,342.10 C232.03,343.27 228.17,343.92 224.80,345.10 C221.43,346.28 217.40,347.85 214.70,349.20 C212.00,350.55 210.62,352.27 208.60,353.20 C206.58,354.13 205.63,354.63 202.60,354.80 C199.57,354.97 199.17,354.63 190.40,354.20 C181.63,353.77 161.77,352.55 150.00,352.20 C138.23,351.85 128.28,351.67 119.80,352.10 C111.32,352.53 104.85,353.20 99.10,354.80 C93.35,356.40 88.98,359.17 85.30,361.70 C81.62,364.23 79.30,368.03 77.00,370.00 C74.70,371.97 73.33,373.38 71.50,373.50 C69.67,373.62 68.30,372.55 66.00,370.70 C63.70,368.85 60.70,364.82 57.70,362.40 C54.70,359.98 51.37,357.65 48.00,356.20 C44.63,354.75 39.25,354.12 37.50,353.70" fill="none" stroke="#3b9f62" stroke-width="1.4" stroke-linejoin="round" clip-path="url(#clipD)"/>
<path d="M37.50,352.10 C38.57,351.63 41.22,349.95 43.90,349.30 C46.58,348.65 50.15,348.58 53.60,348.20 C57.05,347.82 61.62,347.45 64.60,347.00 C67.58,346.55 69.40,346.02 71.50,345.50 C73.60,344.98 75.12,344.35 77.20,343.90 C79.28,343.45 81.78,343.05 84.00,342.80 C86.22,342.55 86.83,342.50 90.50,342.40 C94.17,342.30 96.08,342.25 106.00,342.20 C115.92,342.15 135.93,342.78 150.00,342.10 C164.07,341.42 181.30,339.45 190.40,338.10 C199.50,336.75 200.88,335.87 204.60,334.00 C208.32,332.13 210.52,328.82 212.70,326.90 C214.88,324.98 216.02,322.67 217.70,322.50 C219.38,322.33 220.77,324.32 222.80,325.90 C224.83,327.48 227.55,330.48 229.90,332.00 C232.25,333.52 234.72,335.00 236.90,335.00 C239.08,335.00 241.38,332.83 243.00,332.00 C244.62,331.17 246.27,329.50 246.60,330.00 C246.93,330.50 246.27,333.32 245.00,335.00 C243.73,336.68 241.35,338.82 239.00,340.10 C236.65,341.38 233.93,342.03 230.90,342.70 C227.87,343.37 224.17,343.35 220.80,344.10 C217.43,344.85 214.08,346.25 210.70,347.20 C207.32,348.15 205.57,349.30 200.50,349.80 C195.43,350.30 188.72,350.27 180.30,350.20 C171.88,350.13 160.08,349.67 150.00,349.40 C139.92,349.13 128.28,348.38 119.80,348.60 C111.32,348.82 104.85,349.55 99.10,350.70 C93.35,351.85 88.75,354.00 85.30,355.50 C81.85,357.00 80.47,358.62 78.40,359.70 C76.33,360.78 74.73,361.88 72.90,362.00 C71.07,362.12 69.93,361.72 67.40,360.40 C64.87,359.08 60.93,355.60 57.70,354.10 C54.47,352.60 51.37,351.97 48.00,351.40 C44.63,350.83 39.25,350.82 37.50,350.70" fill="none" stroke="#a862e3" stroke-width="1.4" stroke-linejoin="round" clip-path="url(#clipD)"/>
<line x1="329.9" y1="389.4" x2="485.9" y2="375.4" stroke="#3d3d3d" stroke-width="1.2"/>
<line x1="329.9" y1="289.8" x2="485.9" y2="276.2" stroke="#f03c3c" stroke-width="1.2"/>
<rect x="327.20" y="386.50" width="5.4" height="5.4" fill="#4a4a4a"/>
<rect x="394.20" y="379.20" width="5.4" height="5.4" fill="#4a4a4a"/>
<rect x="433.80" y="375.90" width="5.4" height="5.4" fill="#4a4a4a"/>
<rect x="461.30" y="373.30" width="5.4" height="5.4" fill="#4a4a4a"/>
<rect x="483.20" y="372.60" width="5.4" height="5.4" fill="#4a4a4a"/>
<circle cx="329.9" cy="289.8" r="3.2" fill="#f03c3c"/>
<circle cx="396.9" cy="284.1" r="3.2" fill="#f03c3c"/>
<circle cx="436.5" cy="280.4" r="3.2" fill="#f03c3c"/>
<circle cx="464" cy="277.1" r="3.2" fill="#f03c3c"/>
<circle cx="485.9" cy="276" r="3.2" fill="#f03c3c"/>
<rect x="460.79999999999995" y="250.4" width="5.2" height="5.2" fill="#4a4a4a"/>
<circle cx="463.6" cy="267.2" r="3.2" fill="#f03c3c"/>
<text x="479.80" y="256.80" font-size="11.5" text-anchor="start" fill="#303030" font-weight="normal" >anodic</text>
<text x="479.80" y="270.80" font-size="11.5" text-anchor="start" fill="#303030" font-weight="normal" >cathodic</text>
<text x="446.60" y="330.90" font-size="12.5" text-anchor="start" fill="#303030" font-weight="normal" >b<tspan font-size="8.7" dy="2.6">anodic</tspan><tspan dy="-2.6">= 0.7</tspan></text>
<text x="446.60" y="350.20" font-size="12.5" text-anchor="start" fill="#303030" font-weight="normal" >b<tspan font-size="8.6" dy="2.6">cathodic</tspan><tspan dy="-2.6">= 0.7</tspan></text>
<defs><pattern id="hatch" patternUnits="userSpaceOnUse" width="9" height="9" patternTransform="rotate(0)"><path d="M-1,10 L10,-1 M-5.5,5.5 L5.5,-5.5 M3.5,14.5 L14.5,3.5" stroke="#4a68a8" stroke-width="0.5" fill="none"/></pattern></defs>
<clipPath id="clipF"><rect x="580.7" y="242.6" width="222.9" height="181.9"/></clipPath>
<path d="M588.30,368.60 C588.50,367.42 587.88,363.92 589.50,361.50 C591.12,359.08 594.58,356.27 598.00,354.10 C601.42,351.93 606.98,349.70 610.00,348.50 C613.02,347.30 613.88,347.77 616.10,346.90 C618.32,346.03 621.50,344.65 623.30,343.30 C625.10,341.95 625.40,340.00 626.90,338.80 C628.40,337.60 629.58,337.00 632.30,336.10 C635.02,335.20 638.98,334.30 643.20,333.40 C647.42,332.50 653.10,331.00 657.60,330.70 C662.10,330.40 667.50,331.25 670.20,331.60 C672.90,331.95 672.30,332.80 673.80,332.80 C675.30,332.80 676.50,331.90 679.20,331.60 C681.90,331.30 684.58,331.47 690.00,331.00 C695.42,330.53 705.20,329.88 711.70,328.80 C718.20,327.72 723.95,326.30 729.00,324.50 C734.05,322.70 738.40,320.53 742.00,318.00 C745.60,315.47 748.25,312.55 750.60,309.30 C752.95,306.05 754.65,302.83 756.10,298.50 C757.55,294.17 758.22,288.35 759.30,283.30 C760.38,278.25 761.52,272.53 762.60,268.20 C763.68,263.87 764.90,259.40 765.80,257.30 C766.70,255.20 767.28,255.23 768.00,255.60 C768.72,255.97 769.38,256.32 770.10,259.50 C770.82,262.68 771.40,270.37 772.30,274.70 C773.20,279.03 774.42,282.62 775.50,285.50 C776.58,288.38 777.53,290.20 778.80,292.00 C780.07,293.80 781.65,295.77 783.10,296.30 C784.55,296.83 786.05,296.10 787.50,295.20 C788.95,294.30 790.25,292.88 791.80,290.90 C793.35,288.92 796.15,280.95 796.80,283.30 C797.45,285.65 796.53,298.87 795.70,305.00 C794.87,311.13 793.53,315.77 791.80,320.10 C790.07,324.43 787.83,327.38 785.30,331.00 C782.77,334.62 779.13,338.92 776.60,341.80 C774.07,344.68 772.62,346.50 770.10,348.30 C767.58,350.10 764.02,350.98 761.50,352.60 C758.98,354.22 757.17,356.55 755.00,358.00 C752.83,359.45 752.12,361.30 748.50,361.30 C744.88,361.30 739.43,358.90 733.30,358.00 C727.17,357.10 718.92,356.43 711.70,355.90 C704.48,355.37 695.42,354.95 690.00,354.80 C684.58,354.65 683.10,354.82 679.20,355.00 C675.30,355.18 670.50,355.15 666.60,355.90 C662.70,356.65 659.40,357.98 655.80,359.50 C652.20,361.02 648.02,362.88 645.00,365.00 C641.98,367.12 639.82,369.20 637.70,372.20 C635.58,375.20 633.95,378.80 632.30,383.00 C630.65,387.20 629.30,393.78 627.80,397.40 C626.30,401.02 624.80,404.10 623.30,404.70 C621.80,405.30 620.15,403.72 618.80,401.00 C617.45,398.28 616.40,392.30 615.20,388.40 C614.00,384.50 612.95,380.60 611.60,377.60 C610.25,374.60 609.37,372.65 607.10,370.40 C604.83,368.15 600.72,365.45 598.00,364.10 C595.28,362.75 592.42,361.55 590.80,362.30 C589.18,363.05 588.72,367.55 588.30,368.60 Z" fill="#8dd3a8" stroke="#3aa862" stroke-width="1.1" stroke-linejoin="round" clip-path="url(#clipF)"/>
<path d="M588.10,336.10 L596.20,341.10 L607.10,342.40 L623.30,343.30 L628.70,345.10 L643.20,344.20 L670.20,342.40 L690.00,343.50 L711.70,344.00 L733.30,342.90 L748.50,342.20 L755.00,345.00 L761.50,352.60 L764.70,305.00 L769.10,262.70 L775.50,261.00 L778.80,270.30 L783.10,284.40 L789.60,292.00 L790.70,293.10 L787.50,311.50 L783.10,333.10 L776.60,344.00 L765.80,349.40 L761.50,353.70 L748.50,374.30 L742.00,361.30 L733.30,358.00 L711.70,355.90 L690.00,353.70 L679.20,353.20 L661.20,351.40 L634.10,350.50 L623.30,352.30 L616.10,375.80 L608.90,404.30 L601.70,384.80 L594.40,370.40 L588.10,361.30 Z" fill="#6199f2" fill-opacity="0.79" stroke="none" clip-path="url(#clipF)"/>
<path d="M588.10,336.10 L596.20,341.10 L607.10,342.40 L623.30,343.30 L628.70,345.10 L643.20,344.20 L670.20,342.40 L690.00,343.50 L711.70,344.00 L733.30,342.90 L748.50,342.20 L755.00,345.00 L761.50,352.60 L764.70,305.00 L769.10,262.70 L775.50,261.00 L778.80,270.30 L783.10,284.40 L789.60,292.00 L790.70,293.10 L787.50,311.50 L783.10,333.10 L776.60,344.00 L765.80,349.40 L761.50,353.70 L748.50,374.30 L742.00,361.30 L733.30,358.00 L711.70,355.90 L690.00,353.70 L679.20,353.20 L661.20,351.40 L634.10,350.50 L623.30,352.30 L616.10,375.80 L608.90,404.30 L601.70,384.80 L594.40,370.40 L588.10,361.30 Z" fill="url(#hatch)" stroke="#1f5fe0" stroke-width="1.2" stroke-linejoin="round" clip-path="url(#clipF)"/>
<line x1="649.7" y1="403.7" x2="672.2" y2="403.7" stroke="#3d3d3d" stroke-width="1.3"/>
<line x1="649.7" y1="415.6" x2="672.2" y2="415.6" stroke="#1f5fdc" stroke-width="1.3"/>
<text x="675.70" y="406.60" font-size="10" text-anchor="start" fill="#303030" font-weight="normal" >Experimental</text>
<text x="675.70" y="418.60" font-size="10.2" text-anchor="start" fill="#303030" font-weight="normal" >Sim. capacitive contribution</text>
<rect x="189.55" y="499.07" width="17.2" height="137.10" fill="#8cd3a9" stroke="#74c894" stroke-width="0.8"/>
<rect x="189.55" y="636.17" width="17.2" height="15.23" fill="#84b0f5" stroke="none"/>
<rect x="189.55" y="636.17" width="17.2" height="15.23" fill="url(#hatch)" stroke="#3f7ae6" stroke-width="1"/>
<rect x="230.25" y="499.07" width="17.2" height="114.25" fill="#8cd3a9" stroke="#74c894" stroke-width="0.8"/>
<rect x="230.25" y="613.32" width="17.2" height="38.08" fill="#84b0f5" stroke="none"/>
<rect x="230.25" y="613.32" width="17.2" height="38.08" fill="url(#hatch)" stroke="#3f7ae6" stroke-width="1"/>
<rect x="270.90" y="499.07" width="17.2" height="94.45" fill="#8cd3a9" stroke="#74c894" stroke-width="0.8"/>
<rect x="270.90" y="593.51" width="17.2" height="57.89" fill="#84b0f5" stroke="none"/>
<rect x="270.90" y="593.51" width="17.2" height="57.89" fill="url(#hatch)" stroke="#3f7ae6" stroke-width="1"/>
<rect x="311.70" y="499.07" width="17.2" height="74.64" fill="#8cd3a9" stroke="#74c894" stroke-width="0.8"/>
<rect x="311.70" y="573.71" width="17.2" height="77.69" fill="#84b0f5" stroke="none"/>
<rect x="311.70" y="573.71" width="17.2" height="77.69" fill="url(#hatch)" stroke="#3f7ae6" stroke-width="1"/>
<rect x="352.40" y="499.07" width="17.2" height="53.32" fill="#8cd3a9" stroke="#74c894" stroke-width="0.8"/>
<rect x="352.40" y="552.38" width="17.2" height="99.02" fill="#84b0f5" stroke="none"/>
<rect x="352.40" y="552.38" width="17.2" height="99.02" fill="url(#hatch)" stroke="#3f7ae6" stroke-width="1"/>
<text x="198.15" y="663.00" font-size="10.8" text-anchor="middle" fill="#303030" font-weight="normal" >20</text>
<text x="238.85" y="663.00" font-size="10.8" text-anchor="middle" fill="#303030" font-weight="normal" >40</text>
<text x="279.50" y="663.00" font-size="10.8" text-anchor="middle" fill="#303030" font-weight="normal" >60</text>
<text x="320.30" y="663.00" font-size="10.8" text-anchor="middle" fill="#303030" font-weight="normal" >80</text>
<text x="361.00" y="663.00" font-size="10.8" text-anchor="middle" fill="#303030" font-weight="normal" >100</text>
<rect x="305.2" y="469.9" width="25.9" height="11.9" fill="#8cd3a9" stroke="#74c894" stroke-width="0.8"/>
<rect x="305.2" y="484.1" width="25.9" height="12.2" fill="#84b0f5"/>
<rect x="305.2" y="484.1" width="25.9" height="12.2" fill="url(#hatch)" stroke="#3f7ae6" stroke-width="1"/>
<text x="334.80" y="479.60" font-size="11.7" text-anchor="start" fill="#303030" font-weight="normal" >Diffusion</text>
<text x="334.80" y="493.50" font-size="11.2" text-anchor="start" fill="#303030" font-weight="normal" >Capacitive</text>
<rect x="472.00" y="505.10" width="9" height="143.10" fill="#4d4d4d"/>
<text x="477.55" y="502.60" font-size="10.2" text-anchor="middle" fill="#404040" font-weight="normal" >3950</text>
<rect x="516.60" y="579.15" width="9" height="69.05" fill="#4d4d4d"/>
<text x="521.20" y="573.30" font-size="10.2" text-anchor="middle" fill="#404040" font-weight="normal" >1906</text>
<rect x="561.00" y="606.43" width="9" height="41.77" fill="#4d4d4d"/>
<text x="565.70" y="601.20" font-size="10.2" text-anchor="middle" fill="#404040" font-weight="normal" >1153</text>
<rect x="605.80" y="618.89" width="9" height="29.31" fill="#4d4d4d"/>
<text x="610.45" y="615.20" font-size="10.2" text-anchor="middle" fill="#404040" font-weight="normal" >809</text>
<rect x="650.20" y="625.81" width="9" height="22.39" fill="#4d4d4d"/>
<text x="654.60" y="622.60" font-size="10.2" text-anchor="middle" fill="#404040" font-weight="normal" >618</text>
<line x1="476.5" y1="648.2" x2="476.5" y2="645.2" stroke="#8c8c8c"/>
<text x="476.50" y="661.50" font-size="10.8" text-anchor="middle" fill="#404040" font-weight="normal" >20</text>
<line x1="521.1" y1="648.2" x2="521.1" y2="645.2" stroke="#8c8c8c"/>
<text x="521.10" y="661.50" font-size="10.8" text-anchor="middle" fill="#404040" font-weight="normal" >40</text>
<line x1="565.5" y1="648.2" x2="565.5" y2="645.2" stroke="#8c8c8c"/>
<text x="565.50" y="661.50" font-size="10.8" text-anchor="middle" fill="#404040" font-weight="normal" >60</text>
<line x1="610.3" y1="648.2" x2="610.3" y2="645.2" stroke="#8c8c8c"/>
<text x="610.30" y="661.50" font-size="10.8" text-anchor="middle" fill="#404040" font-weight="normal" >80</text>
<line x1="654.7" y1="648.2" x2="654.7" y2="645.2" stroke="#8c8c8c"/>
<text x="654.70" y="661.50" font-size="10.8" text-anchor="middle" fill="#404040" font-weight="normal" >100</text>
</svg>
</body></html>
